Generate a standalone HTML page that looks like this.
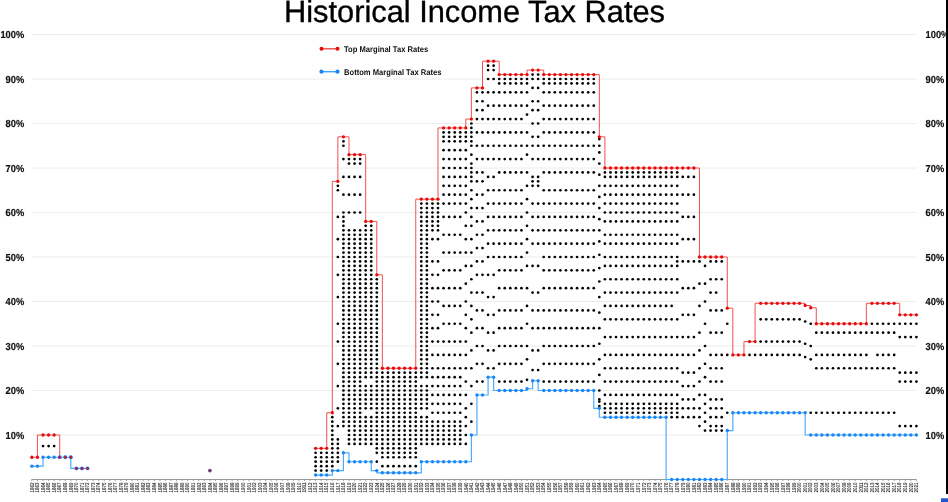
<!DOCTYPE html>
<html><head><meta charset="utf-8"><style>
html,body{margin:0;padding:0;background:#fff;}
svg{display:block;will-change:transform;}
text{font-family:"Liberation Sans",sans-serif;text-rendering:geometricPrecision;}
</style></head><body>
<svg width="948" height="502" viewBox="0 0 948 502">
<rect width="948" height="502" fill="#fff"/>
<text x="474.5" y="22.2" text-anchor="middle" font-size="30.8" textLength="381" lengthAdjust="spacingAndGlyphs" fill="#000" stroke="#000" stroke-width="0.35">Historical Income Tax Rates</text>
<g stroke="#ececec" stroke-width="1"><line x1="32" x2="916.5" y1="435" y2="435"/><line x1="32" x2="916.5" y1="390.5" y2="390.5"/><line x1="32" x2="916.5" y1="346" y2="346"/><line x1="32" x2="916.5" y1="301.5" y2="301.5"/><line x1="32" x2="916.5" y1="257" y2="257"/><line x1="32" x2="916.5" y1="212.5" y2="212.5"/><line x1="32" x2="916.5" y1="168" y2="168"/><line x1="32" x2="916.5" y1="123.5" y2="123.5"/><line x1="32" x2="916.5" y1="79" y2="79"/><line x1="32" x2="916.5" y1="34.5" y2="34.5"/></g>
<g font-size="10.2" font-weight="bold" fill="#111" stroke="#111" stroke-width="0.2" text-anchor="end"><text x="24.2" y="438.6" textLength="18.61" lengthAdjust="spacingAndGlyphs">10%</text><text x="24.2" y="394.1" textLength="18.61" lengthAdjust="spacingAndGlyphs">20%</text><text x="24.2" y="349.6" textLength="18.61" lengthAdjust="spacingAndGlyphs">30%</text><text x="24.2" y="305.1" textLength="18.61" lengthAdjust="spacingAndGlyphs">40%</text><text x="24.2" y="260.6" textLength="18.61" lengthAdjust="spacingAndGlyphs">50%</text><text x="24.2" y="216.1" textLength="18.61" lengthAdjust="spacingAndGlyphs">60%</text><text x="24.2" y="171.6" textLength="18.61" lengthAdjust="spacingAndGlyphs">70%</text><text x="24.2" y="127.1" textLength="18.61" lengthAdjust="spacingAndGlyphs">80%</text><text x="24.2" y="82.6" textLength="18.61" lengthAdjust="spacingAndGlyphs">90%</text><text x="24.2" y="38.1" textLength="23.78" lengthAdjust="spacingAndGlyphs">100%</text></g>
<g font-size="10.2" font-weight="bold" fill="#111" stroke="#111" stroke-width="0.2"><text x="925.6" y="438.6" textLength="18.61" lengthAdjust="spacingAndGlyphs">10%</text><text x="925.6" y="394.1" textLength="18.61" lengthAdjust="spacingAndGlyphs">20%</text><text x="925.6" y="349.6" textLength="18.61" lengthAdjust="spacingAndGlyphs">30%</text><text x="925.6" y="305.1" textLength="18.61" lengthAdjust="spacingAndGlyphs">40%</text><text x="925.6" y="260.6" textLength="18.61" lengthAdjust="spacingAndGlyphs">50%</text><text x="925.6" y="216.1" textLength="18.61" lengthAdjust="spacingAndGlyphs">60%</text><text x="925.6" y="171.6" textLength="18.61" lengthAdjust="spacingAndGlyphs">70%</text><text x="925.6" y="127.1" textLength="18.61" lengthAdjust="spacingAndGlyphs">80%</text><text x="925.6" y="82.6" textLength="18.61" lengthAdjust="spacingAndGlyphs">90%</text><text x="925.6" y="38.1" textLength="23.78" lengthAdjust="spacingAndGlyphs">100%</text></g>
<line x1="31.5" x2="916.5" y1="479.5" y2="479.5" stroke="#9a9a9a" stroke-width="1"/>
<g stroke="#888" stroke-width="0.8"><line x1="31.9" x2="31.9" y1="479.5" y2="481"/><line x1="37.46" x2="37.46" y1="479.5" y2="481"/><line x1="43.03" x2="43.03" y1="479.5" y2="481"/><line x1="48.59" x2="48.59" y1="479.5" y2="481"/><line x1="54.15" x2="54.15" y1="479.5" y2="481"/><line x1="59.71" x2="59.71" y1="479.5" y2="481"/><line x1="65.28" x2="65.28" y1="479.5" y2="481"/><line x1="70.84" x2="70.84" y1="479.5" y2="481"/><line x1="76.4" x2="76.4" y1="479.5" y2="481"/><line x1="81.97" x2="81.97" y1="479.5" y2="481"/><line x1="87.53" x2="87.53" y1="479.5" y2="481"/><line x1="93.09" x2="93.09" y1="479.5" y2="481"/><line x1="98.66" x2="98.66" y1="479.5" y2="481"/><line x1="104.22" x2="104.22" y1="479.5" y2="481"/><line x1="109.78" x2="109.78" y1="479.5" y2="481"/><line x1="115.34" x2="115.34" y1="479.5" y2="481"/><line x1="120.91" x2="120.91" y1="479.5" y2="481"/><line x1="126.47" x2="126.47" y1="479.5" y2="481"/><line x1="132.03" x2="132.03" y1="479.5" y2="481"/><line x1="137.6" x2="137.6" y1="479.5" y2="481"/><line x1="143.16" x2="143.16" y1="479.5" y2="481"/><line x1="148.72" x2="148.72" y1="479.5" y2="481"/><line x1="154.29" x2="154.29" y1="479.5" y2="481"/><line x1="159.85" x2="159.85" y1="479.5" y2="481"/><line x1="165.41" x2="165.41" y1="479.5" y2="481"/><line x1="170.97" x2="170.97" y1="479.5" y2="481"/><line x1="176.54" x2="176.54" y1="479.5" y2="481"/><line x1="182.1" x2="182.1" y1="479.5" y2="481"/><line x1="187.66" x2="187.66" y1="479.5" y2="481"/><line x1="193.23" x2="193.23" y1="479.5" y2="481"/><line x1="198.79" x2="198.79" y1="479.5" y2="481"/><line x1="204.35" x2="204.35" y1="479.5" y2="481"/><line x1="209.92" x2="209.92" y1="479.5" y2="481"/><line x1="215.48" x2="215.48" y1="479.5" y2="481"/><line x1="221.04" x2="221.04" y1="479.5" y2="481"/><line x1="226.6" x2="226.6" y1="479.5" y2="481"/><line x1="232.17" x2="232.17" y1="479.5" y2="481"/><line x1="237.73" x2="237.73" y1="479.5" y2="481"/><line x1="243.29" x2="243.29" y1="479.5" y2="481"/><line x1="248.86" x2="248.86" y1="479.5" y2="481"/><line x1="254.42" x2="254.42" y1="479.5" y2="481"/><line x1="259.98" x2="259.98" y1="479.5" y2="481"/><line x1="265.55" x2="265.55" y1="479.5" y2="481"/><line x1="271.11" x2="271.11" y1="479.5" y2="481"/><line x1="276.67" x2="276.67" y1="479.5" y2="481"/><line x1="282.23" x2="282.23" y1="479.5" y2="481"/><line x1="287.8" x2="287.8" y1="479.5" y2="481"/><line x1="293.36" x2="293.36" y1="479.5" y2="481"/><line x1="298.92" x2="298.92" y1="479.5" y2="481"/><line x1="304.49" x2="304.49" y1="479.5" y2="481"/><line x1="310.05" x2="310.05" y1="479.5" y2="481"/><line x1="315.61" x2="315.61" y1="479.5" y2="481"/><line x1="321.18" x2="321.18" y1="479.5" y2="481"/><line x1="326.74" x2="326.74" y1="479.5" y2="481"/><line x1="332.3" x2="332.3" y1="479.5" y2="481"/><line x1="337.86" x2="337.86" y1="479.5" y2="481"/><line x1="343.43" x2="343.43" y1="479.5" y2="481"/><line x1="348.99" x2="348.99" y1="479.5" y2="481"/><line x1="354.55" x2="354.55" y1="479.5" y2="481"/><line x1="360.12" x2="360.12" y1="479.5" y2="481"/><line x1="365.68" x2="365.68" y1="479.5" y2="481"/><line x1="371.24" x2="371.24" y1="479.5" y2="481"/><line x1="376.81" x2="376.81" y1="479.5" y2="481"/><line x1="382.37" x2="382.37" y1="479.5" y2="481"/><line x1="387.93" x2="387.93" y1="479.5" y2="481"/><line x1="393.49" x2="393.49" y1="479.5" y2="481"/><line x1="399.06" x2="399.06" y1="479.5" y2="481"/><line x1="404.62" x2="404.62" y1="479.5" y2="481"/><line x1="410.18" x2="410.18" y1="479.5" y2="481"/><line x1="415.75" x2="415.75" y1="479.5" y2="481"/><line x1="421.31" x2="421.31" y1="479.5" y2="481"/><line x1="426.87" x2="426.87" y1="479.5" y2="481"/><line x1="432.44" x2="432.44" y1="479.5" y2="481"/><line x1="438" x2="438" y1="479.5" y2="481"/><line x1="443.56" x2="443.56" y1="479.5" y2="481"/><line x1="449.12" x2="449.12" y1="479.5" y2="481"/><line x1="454.69" x2="454.69" y1="479.5" y2="481"/><line x1="460.25" x2="460.25" y1="479.5" y2="481"/><line x1="465.81" x2="465.81" y1="479.5" y2="481"/><line x1="471.38" x2="471.38" y1="479.5" y2="481"/><line x1="476.94" x2="476.94" y1="479.5" y2="481"/><line x1="482.5" x2="482.5" y1="479.5" y2="481"/><line x1="488.07" x2="488.07" y1="479.5" y2="481"/><line x1="493.63" x2="493.63" y1="479.5" y2="481"/><line x1="499.19" x2="499.19" y1="479.5" y2="481"/><line x1="504.75" x2="504.75" y1="479.5" y2="481"/><line x1="510.32" x2="510.32" y1="479.5" y2="481"/><line x1="515.88" x2="515.88" y1="479.5" y2="481"/><line x1="521.44" x2="521.44" y1="479.5" y2="481"/><line x1="527.01" x2="527.01" y1="479.5" y2="481"/><line x1="532.57" x2="532.57" y1="479.5" y2="481"/><line x1="538.13" x2="538.13" y1="479.5" y2="481"/><line x1="543.7" x2="543.7" y1="479.5" y2="481"/><line x1="549.26" x2="549.26" y1="479.5" y2="481"/><line x1="554.82" x2="554.82" y1="479.5" y2="481"/><line x1="560.38" x2="560.38" y1="479.5" y2="481"/><line x1="565.95" x2="565.95" y1="479.5" y2="481"/><line x1="571.51" x2="571.51" y1="479.5" y2="481"/><line x1="577.07" x2="577.07" y1="479.5" y2="481"/><line x1="582.64" x2="582.64" y1="479.5" y2="481"/><line x1="588.2" x2="588.2" y1="479.5" y2="481"/><line x1="593.76" x2="593.76" y1="479.5" y2="481"/><line x1="599.33" x2="599.33" y1="479.5" y2="481"/><line x1="604.89" x2="604.89" y1="479.5" y2="481"/><line x1="610.45" x2="610.45" y1="479.5" y2="481"/><line x1="616.01" x2="616.01" y1="479.5" y2="481"/><line x1="621.58" x2="621.58" y1="479.5" y2="481"/><line x1="627.14" x2="627.14" y1="479.5" y2="481"/><line x1="632.7" x2="632.7" y1="479.5" y2="481"/><line x1="638.27" x2="638.27" y1="479.5" y2="481"/><line x1="643.83" x2="643.83" y1="479.5" y2="481"/><line x1="649.39" x2="649.39" y1="479.5" y2="481"/><line x1="654.96" x2="654.96" y1="479.5" y2="481"/><line x1="660.52" x2="660.52" y1="479.5" y2="481"/><line x1="666.08" x2="666.08" y1="479.5" y2="481"/><line x1="671.64" x2="671.64" y1="479.5" y2="481"/><line x1="677.21" x2="677.21" y1="479.5" y2="481"/><line x1="682.77" x2="682.77" y1="479.5" y2="481"/><line x1="688.33" x2="688.33" y1="479.5" y2="481"/><line x1="693.9" x2="693.9" y1="479.5" y2="481"/><line x1="699.46" x2="699.46" y1="479.5" y2="481"/><line x1="705.02" x2="705.02" y1="479.5" y2="481"/><line x1="710.59" x2="710.59" y1="479.5" y2="481"/><line x1="716.15" x2="716.15" y1="479.5" y2="481"/><line x1="721.71" x2="721.71" y1="479.5" y2="481"/><line x1="727.27" x2="727.27" y1="479.5" y2="481"/><line x1="732.84" x2="732.84" y1="479.5" y2="481"/><line x1="738.4" x2="738.4" y1="479.5" y2="481"/><line x1="743.96" x2="743.96" y1="479.5" y2="481"/><line x1="749.53" x2="749.53" y1="479.5" y2="481"/><line x1="755.09" x2="755.09" y1="479.5" y2="481"/><line x1="760.65" x2="760.65" y1="479.5" y2="481"/><line x1="766.22" x2="766.22" y1="479.5" y2="481"/><line x1="771.78" x2="771.78" y1="479.5" y2="481"/><line x1="777.34" x2="777.34" y1="479.5" y2="481"/><line x1="782.9" x2="782.9" y1="479.5" y2="481"/><line x1="788.47" x2="788.47" y1="479.5" y2="481"/><line x1="794.03" x2="794.03" y1="479.5" y2="481"/><line x1="799.59" x2="799.59" y1="479.5" y2="481"/><line x1="805.16" x2="805.16" y1="479.5" y2="481"/><line x1="810.72" x2="810.72" y1="479.5" y2="481"/><line x1="816.28" x2="816.28" y1="479.5" y2="481"/><line x1="821.85" x2="821.85" y1="479.5" y2="481"/><line x1="827.41" x2="827.41" y1="479.5" y2="481"/><line x1="832.97" x2="832.97" y1="479.5" y2="481"/><line x1="838.53" x2="838.53" y1="479.5" y2="481"/><line x1="844.1" x2="844.1" y1="479.5" y2="481"/><line x1="849.66" x2="849.66" y1="479.5" y2="481"/><line x1="855.22" x2="855.22" y1="479.5" y2="481"/><line x1="860.79" x2="860.79" y1="479.5" y2="481"/><line x1="866.35" x2="866.35" y1="479.5" y2="481"/><line x1="871.91" x2="871.91" y1="479.5" y2="481"/><line x1="877.48" x2="877.48" y1="479.5" y2="481"/><line x1="883.04" x2="883.04" y1="479.5" y2="481"/><line x1="888.6" x2="888.6" y1="479.5" y2="481"/><line x1="894.16" x2="894.16" y1="479.5" y2="481"/><line x1="899.73" x2="899.73" y1="479.5" y2="481"/><line x1="905.29" x2="905.29" y1="479.5" y2="481"/><line x1="910.85" x2="910.85" y1="479.5" y2="481"/><line x1="916.42" x2="916.42" y1="479.5" y2="481"/></g>
<g font-size="5.6" fill="#222" stroke="#222" stroke-width="0.12"><text transform="translate(33.65 492.4) rotate(-90)" textLength="10" lengthAdjust="spacingAndGlyphs">1862</text><text transform="translate(39.21 492.4) rotate(-90)" textLength="10" lengthAdjust="spacingAndGlyphs">1863</text><text transform="translate(44.78 492.4) rotate(-90)" textLength="10" lengthAdjust="spacingAndGlyphs">1864</text><text transform="translate(50.34 492.4) rotate(-90)" textLength="10" lengthAdjust="spacingAndGlyphs">1865</text><text transform="translate(55.9 492.4) rotate(-90)" textLength="10" lengthAdjust="spacingAndGlyphs">1866</text><text transform="translate(61.46 492.4) rotate(-90)" textLength="10" lengthAdjust="spacingAndGlyphs">1867</text><text transform="translate(67.03 492.4) rotate(-90)" textLength="10" lengthAdjust="spacingAndGlyphs">1868</text><text transform="translate(72.59 492.4) rotate(-90)" textLength="10" lengthAdjust="spacingAndGlyphs">1869</text><text transform="translate(78.15 492.4) rotate(-90)" textLength="10" lengthAdjust="spacingAndGlyphs">1870</text><text transform="translate(83.72 492.4) rotate(-90)" textLength="10" lengthAdjust="spacingAndGlyphs">1871</text><text transform="translate(89.28 492.4) rotate(-90)" textLength="10" lengthAdjust="spacingAndGlyphs">1872</text><text transform="translate(94.84 492.4) rotate(-90)" textLength="10" lengthAdjust="spacingAndGlyphs">1873</text><text transform="translate(100.41 492.4) rotate(-90)" textLength="10" lengthAdjust="spacingAndGlyphs">1874</text><text transform="translate(105.97 492.4) rotate(-90)" textLength="10" lengthAdjust="spacingAndGlyphs">1875</text><text transform="translate(111.53 492.4) rotate(-90)" textLength="10" lengthAdjust="spacingAndGlyphs">1876</text><text transform="translate(117.09 492.4) rotate(-90)" textLength="10" lengthAdjust="spacingAndGlyphs">1877</text><text transform="translate(122.66 492.4) rotate(-90)" textLength="10" lengthAdjust="spacingAndGlyphs">1878</text><text transform="translate(128.22 492.4) rotate(-90)" textLength="10" lengthAdjust="spacingAndGlyphs">1879</text><text transform="translate(133.78 492.4) rotate(-90)" textLength="10" lengthAdjust="spacingAndGlyphs">1880</text><text transform="translate(139.35 492.4) rotate(-90)" textLength="10" lengthAdjust="spacingAndGlyphs">1881</text><text transform="translate(144.91 492.4) rotate(-90)" textLength="10" lengthAdjust="spacingAndGlyphs">1882</text><text transform="translate(150.47 492.4) rotate(-90)" textLength="10" lengthAdjust="spacingAndGlyphs">1883</text><text transform="translate(156.04 492.4) rotate(-90)" textLength="10" lengthAdjust="spacingAndGlyphs">1884</text><text transform="translate(161.6 492.4) rotate(-90)" textLength="10" lengthAdjust="spacingAndGlyphs">1885</text><text transform="translate(167.16 492.4) rotate(-90)" textLength="10" lengthAdjust="spacingAndGlyphs">1886</text><text transform="translate(172.72 492.4) rotate(-90)" textLength="10" lengthAdjust="spacingAndGlyphs">1887</text><text transform="translate(178.29 492.4) rotate(-90)" textLength="10" lengthAdjust="spacingAndGlyphs">1888</text><text transform="translate(183.85 492.4) rotate(-90)" textLength="10" lengthAdjust="spacingAndGlyphs">1889</text><text transform="translate(189.41 492.4) rotate(-90)" textLength="10" lengthAdjust="spacingAndGlyphs">1890</text><text transform="translate(194.98 492.4) rotate(-90)" textLength="10" lengthAdjust="spacingAndGlyphs">1891</text><text transform="translate(200.54 492.4) rotate(-90)" textLength="10" lengthAdjust="spacingAndGlyphs">1892</text><text transform="translate(206.1 492.4) rotate(-90)" textLength="10" lengthAdjust="spacingAndGlyphs">1893</text><text transform="translate(211.67 492.4) rotate(-90)" textLength="10" lengthAdjust="spacingAndGlyphs">1894</text><text transform="translate(217.23 492.4) rotate(-90)" textLength="10" lengthAdjust="spacingAndGlyphs">1895</text><text transform="translate(222.79 492.4) rotate(-90)" textLength="10" lengthAdjust="spacingAndGlyphs">1896</text><text transform="translate(228.35 492.4) rotate(-90)" textLength="10" lengthAdjust="spacingAndGlyphs">1897</text><text transform="translate(233.92 492.4) rotate(-90)" textLength="10" lengthAdjust="spacingAndGlyphs">1898</text><text transform="translate(239.48 492.4) rotate(-90)" textLength="10" lengthAdjust="spacingAndGlyphs">1899</text><text transform="translate(245.04 492.4) rotate(-90)" textLength="10" lengthAdjust="spacingAndGlyphs">1900</text><text transform="translate(250.61 492.4) rotate(-90)" textLength="10" lengthAdjust="spacingAndGlyphs">1901</text><text transform="translate(256.17 492.4) rotate(-90)" textLength="10" lengthAdjust="spacingAndGlyphs">1902</text><text transform="translate(261.73 492.4) rotate(-90)" textLength="10" lengthAdjust="spacingAndGlyphs">1903</text><text transform="translate(267.3 492.4) rotate(-90)" textLength="10" lengthAdjust="spacingAndGlyphs">1904</text><text transform="translate(272.86 492.4) rotate(-90)" textLength="10" lengthAdjust="spacingAndGlyphs">1905</text><text transform="translate(278.42 492.4) rotate(-90)" textLength="10" lengthAdjust="spacingAndGlyphs">1906</text><text transform="translate(283.98 492.4) rotate(-90)" textLength="10" lengthAdjust="spacingAndGlyphs">1907</text><text transform="translate(289.55 492.4) rotate(-90)" textLength="10" lengthAdjust="spacingAndGlyphs">1908</text><text transform="translate(295.11 492.4) rotate(-90)" textLength="10" lengthAdjust="spacingAndGlyphs">1909</text><text transform="translate(300.67 492.4) rotate(-90)" textLength="10" lengthAdjust="spacingAndGlyphs">1910</text><text transform="translate(306.24 492.4) rotate(-90)" textLength="10" lengthAdjust="spacingAndGlyphs">1911</text><text transform="translate(311.8 492.4) rotate(-90)" textLength="10" lengthAdjust="spacingAndGlyphs">1912</text><text transform="translate(317.36 492.4) rotate(-90)" textLength="10" lengthAdjust="spacingAndGlyphs">1913</text><text transform="translate(322.93 492.4) rotate(-90)" textLength="10" lengthAdjust="spacingAndGlyphs">1914</text><text transform="translate(328.49 492.4) rotate(-90)" textLength="10" lengthAdjust="spacingAndGlyphs">1915</text><text transform="translate(334.05 492.4) rotate(-90)" textLength="10" lengthAdjust="spacingAndGlyphs">1916</text><text transform="translate(339.61 492.4) rotate(-90)" textLength="10" lengthAdjust="spacingAndGlyphs">1917</text><text transform="translate(345.18 492.4) rotate(-90)" textLength="10" lengthAdjust="spacingAndGlyphs">1918</text><text transform="translate(350.74 492.4) rotate(-90)" textLength="10" lengthAdjust="spacingAndGlyphs">1919</text><text transform="translate(356.3 492.4) rotate(-90)" textLength="10" lengthAdjust="spacingAndGlyphs">1920</text><text transform="translate(361.87 492.4) rotate(-90)" textLength="10" lengthAdjust="spacingAndGlyphs">1921</text><text transform="translate(367.43 492.4) rotate(-90)" textLength="10" lengthAdjust="spacingAndGlyphs">1922</text><text transform="translate(372.99 492.4) rotate(-90)" textLength="10" lengthAdjust="spacingAndGlyphs">1923</text><text transform="translate(378.56 492.4) rotate(-90)" textLength="10" lengthAdjust="spacingAndGlyphs">1924</text><text transform="translate(384.12 492.4) rotate(-90)" textLength="10" lengthAdjust="spacingAndGlyphs">1925</text><text transform="translate(389.68 492.4) rotate(-90)" textLength="10" lengthAdjust="spacingAndGlyphs">1926</text><text transform="translate(395.24 492.4) rotate(-90)" textLength="10" lengthAdjust="spacingAndGlyphs">1927</text><text transform="translate(400.81 492.4) rotate(-90)" textLength="10" lengthAdjust="spacingAndGlyphs">1928</text><text transform="translate(406.37 492.4) rotate(-90)" textLength="10" lengthAdjust="spacingAndGlyphs">1929</text><text transform="translate(411.93 492.4) rotate(-90)" textLength="10" lengthAdjust="spacingAndGlyphs">1930</text><text transform="translate(417.5 492.4) rotate(-90)" textLength="10" lengthAdjust="spacingAndGlyphs">1931</text><text transform="translate(423.06 492.4) rotate(-90)" textLength="10" lengthAdjust="spacingAndGlyphs">1932</text><text transform="translate(428.62 492.4) rotate(-90)" textLength="10" lengthAdjust="spacingAndGlyphs">1933</text><text transform="translate(434.19 492.4) rotate(-90)" textLength="10" lengthAdjust="spacingAndGlyphs">1934</text><text transform="translate(439.75 492.4) rotate(-90)" textLength="10" lengthAdjust="spacingAndGlyphs">1935</text><text transform="translate(445.31 492.4) rotate(-90)" textLength="10" lengthAdjust="spacingAndGlyphs">1936</text><text transform="translate(450.87 492.4) rotate(-90)" textLength="10" lengthAdjust="spacingAndGlyphs">1937</text><text transform="translate(456.44 492.4) rotate(-90)" textLength="10" lengthAdjust="spacingAndGlyphs">1938</text><text transform="translate(462 492.4) rotate(-90)" textLength="10" lengthAdjust="spacingAndGlyphs">1939</text><text transform="translate(467.56 492.4) rotate(-90)" textLength="10" lengthAdjust="spacingAndGlyphs">1940</text><text transform="translate(473.13 492.4) rotate(-90)" textLength="10" lengthAdjust="spacingAndGlyphs">1941</text><text transform="translate(478.69 492.4) rotate(-90)" textLength="10" lengthAdjust="spacingAndGlyphs">1942</text><text transform="translate(484.25 492.4) rotate(-90)" textLength="10" lengthAdjust="spacingAndGlyphs">1943</text><text transform="translate(489.82 492.4) rotate(-90)" textLength="10" lengthAdjust="spacingAndGlyphs">1944</text><text transform="translate(495.38 492.4) rotate(-90)" textLength="10" lengthAdjust="spacingAndGlyphs">1945</text><text transform="translate(500.94 492.4) rotate(-90)" textLength="10" lengthAdjust="spacingAndGlyphs">1946</text><text transform="translate(506.5 492.4) rotate(-90)" textLength="10" lengthAdjust="spacingAndGlyphs">1947</text><text transform="translate(512.07 492.4) rotate(-90)" textLength="10" lengthAdjust="spacingAndGlyphs">1948</text><text transform="translate(517.63 492.4) rotate(-90)" textLength="10" lengthAdjust="spacingAndGlyphs">1949</text><text transform="translate(523.19 492.4) rotate(-90)" textLength="10" lengthAdjust="spacingAndGlyphs">1950</text><text transform="translate(528.76 492.4) rotate(-90)" textLength="10" lengthAdjust="spacingAndGlyphs">1951</text><text transform="translate(534.32 492.4) rotate(-90)" textLength="10" lengthAdjust="spacingAndGlyphs">1952</text><text transform="translate(539.88 492.4) rotate(-90)" textLength="10" lengthAdjust="spacingAndGlyphs">1953</text><text transform="translate(545.45 492.4) rotate(-90)" textLength="10" lengthAdjust="spacingAndGlyphs">1954</text><text transform="translate(551.01 492.4) rotate(-90)" textLength="10" lengthAdjust="spacingAndGlyphs">1955</text><text transform="translate(556.57 492.4) rotate(-90)" textLength="10" lengthAdjust="spacingAndGlyphs">1956</text><text transform="translate(562.13 492.4) rotate(-90)" textLength="10" lengthAdjust="spacingAndGlyphs">1957</text><text transform="translate(567.7 492.4) rotate(-90)" textLength="10" lengthAdjust="spacingAndGlyphs">1958</text><text transform="translate(573.26 492.4) rotate(-90)" textLength="10" lengthAdjust="spacingAndGlyphs">1959</text><text transform="translate(578.82 492.4) rotate(-90)" textLength="10" lengthAdjust="spacingAndGlyphs">1960</text><text transform="translate(584.39 492.4) rotate(-90)" textLength="10" lengthAdjust="spacingAndGlyphs">1961</text><text transform="translate(589.95 492.4) rotate(-90)" textLength="10" lengthAdjust="spacingAndGlyphs">1962</text><text transform="translate(595.51 492.4) rotate(-90)" textLength="10" lengthAdjust="spacingAndGlyphs">1963</text><text transform="translate(601.08 492.4) rotate(-90)" textLength="10" lengthAdjust="spacingAndGlyphs">1964</text><text transform="translate(606.64 492.4) rotate(-90)" textLength="10" lengthAdjust="spacingAndGlyphs">1965</text><text transform="translate(612.2 492.4) rotate(-90)" textLength="10" lengthAdjust="spacingAndGlyphs">1966</text><text transform="translate(617.76 492.4) rotate(-90)" textLength="10" lengthAdjust="spacingAndGlyphs">1967</text><text transform="translate(623.33 492.4) rotate(-90)" textLength="10" lengthAdjust="spacingAndGlyphs">1968</text><text transform="translate(628.89 492.4) rotate(-90)" textLength="10" lengthAdjust="spacingAndGlyphs">1969</text><text transform="translate(634.45 492.4) rotate(-90)" textLength="10" lengthAdjust="spacingAndGlyphs">1970</text><text transform="translate(640.02 492.4) rotate(-90)" textLength="10" lengthAdjust="spacingAndGlyphs">1971</text><text transform="translate(645.58 492.4) rotate(-90)" textLength="10" lengthAdjust="spacingAndGlyphs">1972</text><text transform="translate(651.14 492.4) rotate(-90)" textLength="10" lengthAdjust="spacingAndGlyphs">1973</text><text transform="translate(656.71 492.4) rotate(-90)" textLength="10" lengthAdjust="spacingAndGlyphs">1974</text><text transform="translate(662.27 492.4) rotate(-90)" textLength="10" lengthAdjust="spacingAndGlyphs">1975</text><text transform="translate(667.83 492.4) rotate(-90)" textLength="10" lengthAdjust="spacingAndGlyphs">1976</text><text transform="translate(673.39 492.4) rotate(-90)" textLength="10" lengthAdjust="spacingAndGlyphs">1977</text><text transform="translate(678.96 492.4) rotate(-90)" textLength="10" lengthAdjust="spacingAndGlyphs">1978</text><text transform="translate(684.52 492.4) rotate(-90)" textLength="10" lengthAdjust="spacingAndGlyphs">1979</text><text transform="translate(690.08 492.4) rotate(-90)" textLength="10" lengthAdjust="spacingAndGlyphs">1980</text><text transform="translate(695.65 492.4) rotate(-90)" textLength="10" lengthAdjust="spacingAndGlyphs">1981</text><text transform="translate(701.21 492.4) rotate(-90)" textLength="10" lengthAdjust="spacingAndGlyphs">1982</text><text transform="translate(706.77 492.4) rotate(-90)" textLength="10" lengthAdjust="spacingAndGlyphs">1983</text><text transform="translate(712.34 492.4) rotate(-90)" textLength="10" lengthAdjust="spacingAndGlyphs">1984</text><text transform="translate(717.9 492.4) rotate(-90)" textLength="10" lengthAdjust="spacingAndGlyphs">1985</text><text transform="translate(723.46 492.4) rotate(-90)" textLength="10" lengthAdjust="spacingAndGlyphs">1986</text><text transform="translate(729.02 492.4) rotate(-90)" textLength="10" lengthAdjust="spacingAndGlyphs">1987</text><text transform="translate(734.59 492.4) rotate(-90)" textLength="10" lengthAdjust="spacingAndGlyphs">1988</text><text transform="translate(740.15 492.4) rotate(-90)" textLength="10" lengthAdjust="spacingAndGlyphs">1989</text><text transform="translate(745.71 492.4) rotate(-90)" textLength="10" lengthAdjust="spacingAndGlyphs">1990</text><text transform="translate(751.28 492.4) rotate(-90)" textLength="10" lengthAdjust="spacingAndGlyphs">1991</text><text transform="translate(756.84 492.4) rotate(-90)" textLength="10" lengthAdjust="spacingAndGlyphs">1992</text><text transform="translate(762.4 492.4) rotate(-90)" textLength="10" lengthAdjust="spacingAndGlyphs">1993</text><text transform="translate(767.97 492.4) rotate(-90)" textLength="10" lengthAdjust="spacingAndGlyphs">1994</text><text transform="translate(773.53 492.4) rotate(-90)" textLength="10" lengthAdjust="spacingAndGlyphs">1995</text><text transform="translate(779.09 492.4) rotate(-90)" textLength="10" lengthAdjust="spacingAndGlyphs">1996</text><text transform="translate(784.65 492.4) rotate(-90)" textLength="10" lengthAdjust="spacingAndGlyphs">1997</text><text transform="translate(790.22 492.4) rotate(-90)" textLength="10" lengthAdjust="spacingAndGlyphs">1998</text><text transform="translate(795.78 492.4) rotate(-90)" textLength="10" lengthAdjust="spacingAndGlyphs">1999</text><text transform="translate(801.34 492.4) rotate(-90)" textLength="10" lengthAdjust="spacingAndGlyphs">2000</text><text transform="translate(806.91 492.4) rotate(-90)" textLength="10" lengthAdjust="spacingAndGlyphs">2001</text><text transform="translate(812.47 492.4) rotate(-90)" textLength="10" lengthAdjust="spacingAndGlyphs">2002</text><text transform="translate(818.03 492.4) rotate(-90)" textLength="10" lengthAdjust="spacingAndGlyphs">2003</text><text transform="translate(823.6 492.4) rotate(-90)" textLength="10" lengthAdjust="spacingAndGlyphs">2004</text><text transform="translate(829.16 492.4) rotate(-90)" textLength="10" lengthAdjust="spacingAndGlyphs">2005</text><text transform="translate(834.72 492.4) rotate(-90)" textLength="10" lengthAdjust="spacingAndGlyphs">2006</text><text transform="translate(840.28 492.4) rotate(-90)" textLength="10" lengthAdjust="spacingAndGlyphs">2007</text><text transform="translate(845.85 492.4) rotate(-90)" textLength="10" lengthAdjust="spacingAndGlyphs">2008</text><text transform="translate(851.41 492.4) rotate(-90)" textLength="10" lengthAdjust="spacingAndGlyphs">2009</text><text transform="translate(856.97 492.4) rotate(-90)" textLength="10" lengthAdjust="spacingAndGlyphs">2010</text><text transform="translate(862.54 492.4) rotate(-90)" textLength="10" lengthAdjust="spacingAndGlyphs">2011</text><text transform="translate(868.1 492.4) rotate(-90)" textLength="10" lengthAdjust="spacingAndGlyphs">2012</text><text transform="translate(873.66 492.4) rotate(-90)" textLength="10" lengthAdjust="spacingAndGlyphs">2013</text><text transform="translate(879.23 492.4) rotate(-90)" textLength="10" lengthAdjust="spacingAndGlyphs">2014</text><text transform="translate(884.79 492.4) rotate(-90)" textLength="10" lengthAdjust="spacingAndGlyphs">2015</text><text transform="translate(890.35 492.4) rotate(-90)" textLength="10" lengthAdjust="spacingAndGlyphs">2016</text><text transform="translate(895.91 492.4) rotate(-90)" textLength="10" lengthAdjust="spacingAndGlyphs">2017</text><text transform="translate(901.48 492.4) rotate(-90)" textLength="10" lengthAdjust="spacingAndGlyphs">2018</text><text transform="translate(907.04 492.4) rotate(-90)" textLength="10" lengthAdjust="spacingAndGlyphs">2019</text><text transform="translate(912.6 492.4) rotate(-90)" textLength="10" lengthAdjust="spacingAndGlyphs">2020</text><text transform="translate(918.17 492.4) rotate(-90)" textLength="10" lengthAdjust="spacingAndGlyphs">2021</text></g>
<g fill="#000"><circle cx="43.03" cy="446.12" r="1.35"/><circle cx="48.59" cy="446.12" r="1.35"/><circle cx="54.15" cy="446.12" r="1.35"/><circle cx="315.61" cy="470.6" r="1.35"/><circle cx="315.61" cy="466.15" r="1.35"/><circle cx="315.61" cy="461.7" r="1.35"/><circle cx="315.61" cy="457.25" r="1.35"/><circle cx="315.61" cy="452.8" r="1.35"/><circle cx="321.18" cy="470.6" r="1.35"/><circle cx="321.18" cy="466.15" r="1.35"/><circle cx="321.18" cy="461.7" r="1.35"/><circle cx="321.18" cy="457.25" r="1.35"/><circle cx="321.18" cy="452.8" r="1.35"/><circle cx="326.74" cy="470.6" r="1.35"/><circle cx="326.74" cy="466.15" r="1.35"/><circle cx="326.74" cy="461.7" r="1.35"/><circle cx="326.74" cy="457.25" r="1.35"/><circle cx="326.74" cy="452.8" r="1.35"/><circle cx="332.3" cy="466.15" r="1.35"/><circle cx="332.3" cy="461.7" r="1.35"/><circle cx="332.3" cy="457.25" r="1.35"/><circle cx="332.3" cy="452.8" r="1.35"/><circle cx="332.3" cy="448.35" r="1.35"/><circle cx="332.3" cy="443.9" r="1.35"/><circle cx="332.3" cy="439.45" r="1.35"/><circle cx="332.3" cy="435" r="1.35"/><circle cx="332.3" cy="430.55" r="1.35"/><circle cx="332.3" cy="426.1" r="1.35"/><circle cx="332.3" cy="421.65" r="1.35"/><circle cx="332.3" cy="417.2" r="1.35"/><circle cx="337.86" cy="461.7" r="1.35"/><circle cx="337.86" cy="457.25" r="1.35"/><circle cx="337.86" cy="452.8" r="1.35"/><circle cx="337.86" cy="448.35" r="1.35"/><circle cx="337.86" cy="443.9" r="1.35"/><circle cx="337.86" cy="439.45" r="1.35"/><circle cx="337.86" cy="426.1" r="1.35"/><circle cx="337.86" cy="408.3" r="1.35"/><circle cx="337.86" cy="386.05" r="1.35"/><circle cx="337.86" cy="363.8" r="1.35"/><circle cx="337.86" cy="341.55" r="1.35"/><circle cx="337.86" cy="323.75" r="1.35"/><circle cx="337.86" cy="297.05" r="1.35"/><circle cx="337.86" cy="274.8" r="1.35"/><circle cx="337.86" cy="257" r="1.35"/><circle cx="337.86" cy="239.2" r="1.35"/><circle cx="337.86" cy="216.95" r="1.35"/><circle cx="337.86" cy="190.25" r="1.35"/><circle cx="337.86" cy="185.8" r="1.35"/><circle cx="343.43" cy="426.1" r="1.35"/><circle cx="343.43" cy="421.65" r="1.35"/><circle cx="343.43" cy="417.2" r="1.35"/><circle cx="343.43" cy="412.75" r="1.35"/><circle cx="343.43" cy="408.3" r="1.35"/><circle cx="343.43" cy="403.85" r="1.35"/><circle cx="343.43" cy="399.4" r="1.35"/><circle cx="343.43" cy="394.95" r="1.35"/><circle cx="343.43" cy="390.5" r="1.35"/><circle cx="343.43" cy="386.05" r="1.35"/><circle cx="343.43" cy="381.6" r="1.35"/><circle cx="343.43" cy="377.15" r="1.35"/><circle cx="343.43" cy="372.7" r="1.35"/><circle cx="343.43" cy="368.25" r="1.35"/><circle cx="343.43" cy="363.8" r="1.35"/><circle cx="343.43" cy="359.35" r="1.35"/><circle cx="343.43" cy="354.9" r="1.35"/><circle cx="343.43" cy="350.45" r="1.35"/><circle cx="343.43" cy="346" r="1.35"/><circle cx="343.43" cy="341.55" r="1.35"/><circle cx="343.43" cy="337.1" r="1.35"/><circle cx="343.43" cy="332.65" r="1.35"/><circle cx="343.43" cy="328.2" r="1.35"/><circle cx="343.43" cy="323.75" r="1.35"/><circle cx="343.43" cy="319.3" r="1.35"/><circle cx="343.43" cy="314.85" r="1.35"/><circle cx="343.43" cy="310.4" r="1.35"/><circle cx="343.43" cy="305.95" r="1.35"/><circle cx="343.43" cy="301.5" r="1.35"/><circle cx="343.43" cy="297.05" r="1.35"/><circle cx="343.43" cy="292.6" r="1.35"/><circle cx="343.43" cy="288.15" r="1.35"/><circle cx="343.43" cy="283.7" r="1.35"/><circle cx="343.43" cy="279.25" r="1.35"/><circle cx="343.43" cy="274.8" r="1.35"/><circle cx="343.43" cy="270.35" r="1.35"/><circle cx="343.43" cy="265.9" r="1.35"/><circle cx="343.43" cy="261.45" r="1.35"/><circle cx="343.43" cy="257" r="1.35"/><circle cx="343.43" cy="252.55" r="1.35"/><circle cx="343.43" cy="248.1" r="1.35"/><circle cx="343.43" cy="243.65" r="1.35"/><circle cx="343.43" cy="239.2" r="1.35"/><circle cx="343.43" cy="234.75" r="1.35"/><circle cx="343.43" cy="230.3" r="1.35"/><circle cx="343.43" cy="225.85" r="1.35"/><circle cx="343.43" cy="221.4" r="1.35"/><circle cx="343.43" cy="216.95" r="1.35"/><circle cx="343.43" cy="212.5" r="1.35"/><circle cx="343.43" cy="194.7" r="1.35"/><circle cx="343.43" cy="176.9" r="1.35"/><circle cx="343.43" cy="159.1" r="1.35"/><circle cx="343.43" cy="145.75" r="1.35"/><circle cx="343.43" cy="141.3" r="1.35"/><circle cx="348.99" cy="443.9" r="1.35"/><circle cx="348.99" cy="439.45" r="1.35"/><circle cx="348.99" cy="435" r="1.35"/><circle cx="348.99" cy="430.55" r="1.35"/><circle cx="348.99" cy="426.1" r="1.35"/><circle cx="348.99" cy="421.65" r="1.35"/><circle cx="348.99" cy="417.2" r="1.35"/><circle cx="348.99" cy="412.75" r="1.35"/><circle cx="348.99" cy="408.3" r="1.35"/><circle cx="348.99" cy="403.85" r="1.35"/><circle cx="348.99" cy="399.4" r="1.35"/><circle cx="348.99" cy="394.95" r="1.35"/><circle cx="348.99" cy="390.5" r="1.35"/><circle cx="348.99" cy="386.05" r="1.35"/><circle cx="348.99" cy="381.6" r="1.35"/><circle cx="348.99" cy="377.15" r="1.35"/><circle cx="348.99" cy="372.7" r="1.35"/><circle cx="348.99" cy="368.25" r="1.35"/><circle cx="348.99" cy="363.8" r="1.35"/><circle cx="348.99" cy="359.35" r="1.35"/><circle cx="348.99" cy="354.9" r="1.35"/><circle cx="348.99" cy="350.45" r="1.35"/><circle cx="348.99" cy="346" r="1.35"/><circle cx="348.99" cy="341.55" r="1.35"/><circle cx="348.99" cy="337.1" r="1.35"/><circle cx="348.99" cy="332.65" r="1.35"/><circle cx="348.99" cy="328.2" r="1.35"/><circle cx="348.99" cy="323.75" r="1.35"/><circle cx="348.99" cy="319.3" r="1.35"/><circle cx="348.99" cy="314.85" r="1.35"/><circle cx="348.99" cy="310.4" r="1.35"/><circle cx="348.99" cy="305.95" r="1.35"/><circle cx="348.99" cy="301.5" r="1.35"/><circle cx="348.99" cy="297.05" r="1.35"/><circle cx="348.99" cy="292.6" r="1.35"/><circle cx="348.99" cy="288.15" r="1.35"/><circle cx="348.99" cy="283.7" r="1.35"/><circle cx="348.99" cy="279.25" r="1.35"/><circle cx="348.99" cy="274.8" r="1.35"/><circle cx="348.99" cy="270.35" r="1.35"/><circle cx="348.99" cy="265.9" r="1.35"/><circle cx="348.99" cy="261.45" r="1.35"/><circle cx="348.99" cy="257" r="1.35"/><circle cx="348.99" cy="252.55" r="1.35"/><circle cx="348.99" cy="248.1" r="1.35"/><circle cx="348.99" cy="243.65" r="1.35"/><circle cx="348.99" cy="239.2" r="1.35"/><circle cx="348.99" cy="234.75" r="1.35"/><circle cx="348.99" cy="230.3" r="1.35"/><circle cx="348.99" cy="212.5" r="1.35"/><circle cx="348.99" cy="194.7" r="1.35"/><circle cx="348.99" cy="176.9" r="1.35"/><circle cx="348.99" cy="163.55" r="1.35"/><circle cx="348.99" cy="159.1" r="1.35"/><circle cx="354.55" cy="443.9" r="1.35"/><circle cx="354.55" cy="439.45" r="1.35"/><circle cx="354.55" cy="435" r="1.35"/><circle cx="354.55" cy="430.55" r="1.35"/><circle cx="354.55" cy="426.1" r="1.35"/><circle cx="354.55" cy="421.65" r="1.35"/><circle cx="354.55" cy="417.2" r="1.35"/><circle cx="354.55" cy="412.75" r="1.35"/><circle cx="354.55" cy="408.3" r="1.35"/><circle cx="354.55" cy="403.85" r="1.35"/><circle cx="354.55" cy="399.4" r="1.35"/><circle cx="354.55" cy="394.95" r="1.35"/><circle cx="354.55" cy="390.5" r="1.35"/><circle cx="354.55" cy="386.05" r="1.35"/><circle cx="354.55" cy="381.6" r="1.35"/><circle cx="354.55" cy="377.15" r="1.35"/><circle cx="354.55" cy="372.7" r="1.35"/><circle cx="354.55" cy="368.25" r="1.35"/><circle cx="354.55" cy="363.8" r="1.35"/><circle cx="354.55" cy="359.35" r="1.35"/><circle cx="354.55" cy="354.9" r="1.35"/><circle cx="354.55" cy="350.45" r="1.35"/><circle cx="354.55" cy="346" r="1.35"/><circle cx="354.55" cy="341.55" r="1.35"/><circle cx="354.55" cy="337.1" r="1.35"/><circle cx="354.55" cy="332.65" r="1.35"/><circle cx="354.55" cy="328.2" r="1.35"/><circle cx="354.55" cy="323.75" r="1.35"/><circle cx="354.55" cy="319.3" r="1.35"/><circle cx="354.55" cy="314.85" r="1.35"/><circle cx="354.55" cy="310.4" r="1.35"/><circle cx="354.55" cy="305.95" r="1.35"/><circle cx="354.55" cy="301.5" r="1.35"/><circle cx="354.55" cy="297.05" r="1.35"/><circle cx="354.55" cy="292.6" r="1.35"/><circle cx="354.55" cy="288.15" r="1.35"/><circle cx="354.55" cy="283.7" r="1.35"/><circle cx="354.55" cy="279.25" r="1.35"/><circle cx="354.55" cy="274.8" r="1.35"/><circle cx="354.55" cy="270.35" r="1.35"/><circle cx="354.55" cy="265.9" r="1.35"/><circle cx="354.55" cy="261.45" r="1.35"/><circle cx="354.55" cy="257" r="1.35"/><circle cx="354.55" cy="252.55" r="1.35"/><circle cx="354.55" cy="248.1" r="1.35"/><circle cx="354.55" cy="243.65" r="1.35"/><circle cx="354.55" cy="239.2" r="1.35"/><circle cx="354.55" cy="234.75" r="1.35"/><circle cx="354.55" cy="230.3" r="1.35"/><circle cx="354.55" cy="212.5" r="1.35"/><circle cx="354.55" cy="194.7" r="1.35"/><circle cx="354.55" cy="176.9" r="1.35"/><circle cx="354.55" cy="163.55" r="1.35"/><circle cx="354.55" cy="159.1" r="1.35"/><circle cx="360.12" cy="443.9" r="1.35"/><circle cx="360.12" cy="439.45" r="1.35"/><circle cx="360.12" cy="435" r="1.35"/><circle cx="360.12" cy="430.55" r="1.35"/><circle cx="360.12" cy="426.1" r="1.35"/><circle cx="360.12" cy="421.65" r="1.35"/><circle cx="360.12" cy="417.2" r="1.35"/><circle cx="360.12" cy="412.75" r="1.35"/><circle cx="360.12" cy="408.3" r="1.35"/><circle cx="360.12" cy="403.85" r="1.35"/><circle cx="360.12" cy="399.4" r="1.35"/><circle cx="360.12" cy="394.95" r="1.35"/><circle cx="360.12" cy="390.5" r="1.35"/><circle cx="360.12" cy="386.05" r="1.35"/><circle cx="360.12" cy="381.6" r="1.35"/><circle cx="360.12" cy="377.15" r="1.35"/><circle cx="360.12" cy="372.7" r="1.35"/><circle cx="360.12" cy="368.25" r="1.35"/><circle cx="360.12" cy="363.8" r="1.35"/><circle cx="360.12" cy="359.35" r="1.35"/><circle cx="360.12" cy="354.9" r="1.35"/><circle cx="360.12" cy="350.45" r="1.35"/><circle cx="360.12" cy="346" r="1.35"/><circle cx="360.12" cy="341.55" r="1.35"/><circle cx="360.12" cy="337.1" r="1.35"/><circle cx="360.12" cy="332.65" r="1.35"/><circle cx="360.12" cy="328.2" r="1.35"/><circle cx="360.12" cy="323.75" r="1.35"/><circle cx="360.12" cy="319.3" r="1.35"/><circle cx="360.12" cy="314.85" r="1.35"/><circle cx="360.12" cy="310.4" r="1.35"/><circle cx="360.12" cy="305.95" r="1.35"/><circle cx="360.12" cy="301.5" r="1.35"/><circle cx="360.12" cy="297.05" r="1.35"/><circle cx="360.12" cy="292.6" r="1.35"/><circle cx="360.12" cy="288.15" r="1.35"/><circle cx="360.12" cy="283.7" r="1.35"/><circle cx="360.12" cy="279.25" r="1.35"/><circle cx="360.12" cy="274.8" r="1.35"/><circle cx="360.12" cy="270.35" r="1.35"/><circle cx="360.12" cy="265.9" r="1.35"/><circle cx="360.12" cy="261.45" r="1.35"/><circle cx="360.12" cy="257" r="1.35"/><circle cx="360.12" cy="252.55" r="1.35"/><circle cx="360.12" cy="248.1" r="1.35"/><circle cx="360.12" cy="243.65" r="1.35"/><circle cx="360.12" cy="239.2" r="1.35"/><circle cx="360.12" cy="234.75" r="1.35"/><circle cx="360.12" cy="230.3" r="1.35"/><circle cx="360.12" cy="212.5" r="1.35"/><circle cx="360.12" cy="194.7" r="1.35"/><circle cx="360.12" cy="176.9" r="1.35"/><circle cx="360.12" cy="163.55" r="1.35"/><circle cx="360.12" cy="159.1" r="1.35"/><circle cx="365.68" cy="443.9" r="1.35"/><circle cx="365.68" cy="439.45" r="1.35"/><circle cx="365.68" cy="435" r="1.35"/><circle cx="365.68" cy="430.55" r="1.35"/><circle cx="365.68" cy="426.1" r="1.35"/><circle cx="365.68" cy="421.65" r="1.35"/><circle cx="365.68" cy="417.2" r="1.35"/><circle cx="365.68" cy="408.3" r="1.35"/><circle cx="365.68" cy="403.85" r="1.35"/><circle cx="365.68" cy="399.4" r="1.35"/><circle cx="365.68" cy="394.95" r="1.35"/><circle cx="365.68" cy="390.5" r="1.35"/><circle cx="365.68" cy="386.05" r="1.35"/><circle cx="365.68" cy="377.15" r="1.35"/><circle cx="365.68" cy="372.7" r="1.35"/><circle cx="365.68" cy="368.25" r="1.35"/><circle cx="365.68" cy="363.8" r="1.35"/><circle cx="365.68" cy="359.35" r="1.35"/><circle cx="365.68" cy="354.9" r="1.35"/><circle cx="365.68" cy="350.45" r="1.35"/><circle cx="365.68" cy="346" r="1.35"/><circle cx="365.68" cy="341.55" r="1.35"/><circle cx="365.68" cy="337.1" r="1.35"/><circle cx="365.68" cy="332.65" r="1.35"/><circle cx="365.68" cy="328.2" r="1.35"/><circle cx="365.68" cy="323.75" r="1.35"/><circle cx="365.68" cy="319.3" r="1.35"/><circle cx="365.68" cy="314.85" r="1.35"/><circle cx="365.68" cy="310.4" r="1.35"/><circle cx="365.68" cy="305.95" r="1.35"/><circle cx="365.68" cy="301.5" r="1.35"/><circle cx="365.68" cy="297.05" r="1.35"/><circle cx="365.68" cy="292.6" r="1.35"/><circle cx="365.68" cy="288.15" r="1.35"/><circle cx="365.68" cy="283.7" r="1.35"/><circle cx="365.68" cy="279.25" r="1.35"/><circle cx="365.68" cy="274.8" r="1.35"/><circle cx="365.68" cy="270.35" r="1.35"/><circle cx="365.68" cy="265.9" r="1.35"/><circle cx="365.68" cy="261.45" r="1.35"/><circle cx="365.68" cy="257" r="1.35"/><circle cx="365.68" cy="252.55" r="1.35"/><circle cx="365.68" cy="248.1" r="1.35"/><circle cx="365.68" cy="243.65" r="1.35"/><circle cx="365.68" cy="239.2" r="1.35"/><circle cx="365.68" cy="234.75" r="1.35"/><circle cx="365.68" cy="230.3" r="1.35"/><circle cx="365.68" cy="225.85" r="1.35"/><circle cx="371.24" cy="443.9" r="1.35"/><circle cx="371.24" cy="439.45" r="1.35"/><circle cx="371.24" cy="435" r="1.35"/><circle cx="371.24" cy="430.55" r="1.35"/><circle cx="371.24" cy="426.1" r="1.35"/><circle cx="371.24" cy="421.65" r="1.35"/><circle cx="371.24" cy="417.2" r="1.35"/><circle cx="371.24" cy="408.3" r="1.35"/><circle cx="371.24" cy="403.85" r="1.35"/><circle cx="371.24" cy="399.4" r="1.35"/><circle cx="371.24" cy="394.95" r="1.35"/><circle cx="371.24" cy="390.5" r="1.35"/><circle cx="371.24" cy="386.05" r="1.35"/><circle cx="371.24" cy="377.15" r="1.35"/><circle cx="371.24" cy="372.7" r="1.35"/><circle cx="371.24" cy="368.25" r="1.35"/><circle cx="371.24" cy="363.8" r="1.35"/><circle cx="371.24" cy="359.35" r="1.35"/><circle cx="371.24" cy="354.9" r="1.35"/><circle cx="371.24" cy="350.45" r="1.35"/><circle cx="371.24" cy="346" r="1.35"/><circle cx="371.24" cy="341.55" r="1.35"/><circle cx="371.24" cy="337.1" r="1.35"/><circle cx="371.24" cy="332.65" r="1.35"/><circle cx="371.24" cy="328.2" r="1.35"/><circle cx="371.24" cy="323.75" r="1.35"/><circle cx="371.24" cy="319.3" r="1.35"/><circle cx="371.24" cy="314.85" r="1.35"/><circle cx="371.24" cy="310.4" r="1.35"/><circle cx="371.24" cy="305.95" r="1.35"/><circle cx="371.24" cy="301.5" r="1.35"/><circle cx="371.24" cy="297.05" r="1.35"/><circle cx="371.24" cy="292.6" r="1.35"/><circle cx="371.24" cy="288.15" r="1.35"/><circle cx="371.24" cy="283.7" r="1.35"/><circle cx="371.24" cy="279.25" r="1.35"/><circle cx="371.24" cy="274.8" r="1.35"/><circle cx="371.24" cy="270.35" r="1.35"/><circle cx="371.24" cy="265.9" r="1.35"/><circle cx="371.24" cy="261.45" r="1.35"/><circle cx="371.24" cy="257" r="1.35"/><circle cx="371.24" cy="252.55" r="1.35"/><circle cx="371.24" cy="248.1" r="1.35"/><circle cx="371.24" cy="243.65" r="1.35"/><circle cx="371.24" cy="239.2" r="1.35"/><circle cx="371.24" cy="234.75" r="1.35"/><circle cx="371.24" cy="230.3" r="1.35"/><circle cx="371.24" cy="225.85" r="1.35"/><circle cx="376.81" cy="461.7" r="1.35"/><circle cx="376.81" cy="452.8" r="1.35"/><circle cx="376.81" cy="448.35" r="1.35"/><circle cx="376.81" cy="443.9" r="1.35"/><circle cx="376.81" cy="439.45" r="1.35"/><circle cx="376.81" cy="435" r="1.35"/><circle cx="376.81" cy="430.55" r="1.35"/><circle cx="376.81" cy="426.1" r="1.35"/><circle cx="376.81" cy="421.65" r="1.35"/><circle cx="376.81" cy="417.2" r="1.35"/><circle cx="376.81" cy="412.75" r="1.35"/><circle cx="376.81" cy="408.3" r="1.35"/><circle cx="376.81" cy="403.85" r="1.35"/><circle cx="376.81" cy="399.4" r="1.35"/><circle cx="376.81" cy="394.95" r="1.35"/><circle cx="376.81" cy="390.5" r="1.35"/><circle cx="376.81" cy="386.05" r="1.35"/><circle cx="376.81" cy="381.6" r="1.35"/><circle cx="376.81" cy="377.15" r="1.35"/><circle cx="376.81" cy="372.7" r="1.35"/><circle cx="376.81" cy="368.25" r="1.35"/><circle cx="376.81" cy="363.8" r="1.35"/><circle cx="376.81" cy="359.35" r="1.35"/><circle cx="376.81" cy="354.9" r="1.35"/><circle cx="376.81" cy="350.45" r="1.35"/><circle cx="376.81" cy="346" r="1.35"/><circle cx="376.81" cy="341.55" r="1.35"/><circle cx="376.81" cy="337.1" r="1.35"/><circle cx="376.81" cy="332.65" r="1.35"/><circle cx="376.81" cy="328.2" r="1.35"/><circle cx="376.81" cy="323.75" r="1.35"/><circle cx="376.81" cy="319.3" r="1.35"/><circle cx="376.81" cy="314.85" r="1.35"/><circle cx="376.81" cy="310.4" r="1.35"/><circle cx="376.81" cy="305.95" r="1.35"/><circle cx="376.81" cy="301.5" r="1.35"/><circle cx="376.81" cy="297.05" r="1.35"/><circle cx="376.81" cy="292.6" r="1.35"/><circle cx="376.81" cy="288.15" r="1.35"/><circle cx="376.81" cy="283.7" r="1.35"/><circle cx="376.81" cy="279.25" r="1.35"/><circle cx="382.37" cy="466.15" r="1.35"/><circle cx="382.37" cy="457.25" r="1.35"/><circle cx="382.37" cy="452.8" r="1.35"/><circle cx="382.37" cy="448.35" r="1.35"/><circle cx="382.37" cy="443.9" r="1.35"/><circle cx="382.37" cy="439.45" r="1.35"/><circle cx="382.37" cy="435" r="1.35"/><circle cx="382.37" cy="430.55" r="1.35"/><circle cx="382.37" cy="426.1" r="1.35"/><circle cx="382.37" cy="421.65" r="1.35"/><circle cx="382.37" cy="417.2" r="1.35"/><circle cx="382.37" cy="412.75" r="1.35"/><circle cx="382.37" cy="408.3" r="1.35"/><circle cx="382.37" cy="403.85" r="1.35"/><circle cx="382.37" cy="399.4" r="1.35"/><circle cx="382.37" cy="394.95" r="1.35"/><circle cx="382.37" cy="390.5" r="1.35"/><circle cx="382.37" cy="386.05" r="1.35"/><circle cx="382.37" cy="381.6" r="1.35"/><circle cx="382.37" cy="377.15" r="1.35"/><circle cx="382.37" cy="372.7" r="1.35"/><circle cx="387.93" cy="466.15" r="1.35"/><circle cx="387.93" cy="457.25" r="1.35"/><circle cx="387.93" cy="452.8" r="1.35"/><circle cx="387.93" cy="448.35" r="1.35"/><circle cx="387.93" cy="443.9" r="1.35"/><circle cx="387.93" cy="439.45" r="1.35"/><circle cx="387.93" cy="435" r="1.35"/><circle cx="387.93" cy="430.55" r="1.35"/><circle cx="387.93" cy="426.1" r="1.35"/><circle cx="387.93" cy="421.65" r="1.35"/><circle cx="387.93" cy="417.2" r="1.35"/><circle cx="387.93" cy="412.75" r="1.35"/><circle cx="387.93" cy="408.3" r="1.35"/><circle cx="387.93" cy="403.85" r="1.35"/><circle cx="387.93" cy="399.4" r="1.35"/><circle cx="387.93" cy="394.95" r="1.35"/><circle cx="387.93" cy="390.5" r="1.35"/><circle cx="387.93" cy="386.05" r="1.35"/><circle cx="387.93" cy="381.6" r="1.35"/><circle cx="387.93" cy="377.15" r="1.35"/><circle cx="387.93" cy="372.7" r="1.35"/><circle cx="393.49" cy="466.15" r="1.35"/><circle cx="393.49" cy="457.25" r="1.35"/><circle cx="393.49" cy="452.8" r="1.35"/><circle cx="393.49" cy="448.35" r="1.35"/><circle cx="393.49" cy="443.9" r="1.35"/><circle cx="393.49" cy="439.45" r="1.35"/><circle cx="393.49" cy="435" r="1.35"/><circle cx="393.49" cy="430.55" r="1.35"/><circle cx="393.49" cy="426.1" r="1.35"/><circle cx="393.49" cy="421.65" r="1.35"/><circle cx="393.49" cy="417.2" r="1.35"/><circle cx="393.49" cy="412.75" r="1.35"/><circle cx="393.49" cy="408.3" r="1.35"/><circle cx="393.49" cy="403.85" r="1.35"/><circle cx="393.49" cy="399.4" r="1.35"/><circle cx="393.49" cy="394.95" r="1.35"/><circle cx="393.49" cy="390.5" r="1.35"/><circle cx="393.49" cy="386.05" r="1.35"/><circle cx="393.49" cy="381.6" r="1.35"/><circle cx="393.49" cy="377.15" r="1.35"/><circle cx="393.49" cy="372.7" r="1.35"/><circle cx="399.06" cy="466.15" r="1.35"/><circle cx="399.06" cy="457.25" r="1.35"/><circle cx="399.06" cy="452.8" r="1.35"/><circle cx="399.06" cy="448.35" r="1.35"/><circle cx="399.06" cy="443.9" r="1.35"/><circle cx="399.06" cy="439.45" r="1.35"/><circle cx="399.06" cy="435" r="1.35"/><circle cx="399.06" cy="430.55" r="1.35"/><circle cx="399.06" cy="426.1" r="1.35"/><circle cx="399.06" cy="421.65" r="1.35"/><circle cx="399.06" cy="417.2" r="1.35"/><circle cx="399.06" cy="412.75" r="1.35"/><circle cx="399.06" cy="408.3" r="1.35"/><circle cx="399.06" cy="403.85" r="1.35"/><circle cx="399.06" cy="399.4" r="1.35"/><circle cx="399.06" cy="394.95" r="1.35"/><circle cx="399.06" cy="390.5" r="1.35"/><circle cx="399.06" cy="386.05" r="1.35"/><circle cx="399.06" cy="381.6" r="1.35"/><circle cx="399.06" cy="377.15" r="1.35"/><circle cx="399.06" cy="372.7" r="1.35"/><circle cx="404.62" cy="466.15" r="1.35"/><circle cx="404.62" cy="457.25" r="1.35"/><circle cx="404.62" cy="452.8" r="1.35"/><circle cx="404.62" cy="448.35" r="1.35"/><circle cx="404.62" cy="443.9" r="1.35"/><circle cx="404.62" cy="439.45" r="1.35"/><circle cx="404.62" cy="435" r="1.35"/><circle cx="404.62" cy="430.55" r="1.35"/><circle cx="404.62" cy="426.1" r="1.35"/><circle cx="404.62" cy="421.65" r="1.35"/><circle cx="404.62" cy="417.2" r="1.35"/><circle cx="404.62" cy="412.75" r="1.35"/><circle cx="404.62" cy="408.3" r="1.35"/><circle cx="404.62" cy="403.85" r="1.35"/><circle cx="404.62" cy="399.4" r="1.35"/><circle cx="404.62" cy="394.95" r="1.35"/><circle cx="404.62" cy="390.5" r="1.35"/><circle cx="404.62" cy="386.05" r="1.35"/><circle cx="404.62" cy="381.6" r="1.35"/><circle cx="404.62" cy="377.15" r="1.35"/><circle cx="404.62" cy="372.7" r="1.35"/><circle cx="410.18" cy="466.15" r="1.35"/><circle cx="410.18" cy="457.25" r="1.35"/><circle cx="410.18" cy="452.8" r="1.35"/><circle cx="410.18" cy="448.35" r="1.35"/><circle cx="410.18" cy="443.9" r="1.35"/><circle cx="410.18" cy="439.45" r="1.35"/><circle cx="410.18" cy="435" r="1.35"/><circle cx="410.18" cy="430.55" r="1.35"/><circle cx="410.18" cy="426.1" r="1.35"/><circle cx="410.18" cy="421.65" r="1.35"/><circle cx="410.18" cy="417.2" r="1.35"/><circle cx="410.18" cy="412.75" r="1.35"/><circle cx="410.18" cy="408.3" r="1.35"/><circle cx="410.18" cy="403.85" r="1.35"/><circle cx="410.18" cy="399.4" r="1.35"/><circle cx="410.18" cy="394.95" r="1.35"/><circle cx="410.18" cy="390.5" r="1.35"/><circle cx="410.18" cy="386.05" r="1.35"/><circle cx="410.18" cy="381.6" r="1.35"/><circle cx="410.18" cy="377.15" r="1.35"/><circle cx="410.18" cy="372.7" r="1.35"/><circle cx="415.75" cy="466.15" r="1.35"/><circle cx="415.75" cy="457.25" r="1.35"/><circle cx="415.75" cy="452.8" r="1.35"/><circle cx="415.75" cy="448.35" r="1.35"/><circle cx="415.75" cy="443.9" r="1.35"/><circle cx="415.75" cy="439.45" r="1.35"/><circle cx="415.75" cy="435" r="1.35"/><circle cx="415.75" cy="430.55" r="1.35"/><circle cx="415.75" cy="426.1" r="1.35"/><circle cx="415.75" cy="421.65" r="1.35"/><circle cx="415.75" cy="417.2" r="1.35"/><circle cx="415.75" cy="412.75" r="1.35"/><circle cx="415.75" cy="408.3" r="1.35"/><circle cx="415.75" cy="403.85" r="1.35"/><circle cx="415.75" cy="399.4" r="1.35"/><circle cx="415.75" cy="394.95" r="1.35"/><circle cx="415.75" cy="390.5" r="1.35"/><circle cx="415.75" cy="386.05" r="1.35"/><circle cx="415.75" cy="381.6" r="1.35"/><circle cx="415.75" cy="377.15" r="1.35"/><circle cx="415.75" cy="372.7" r="1.35"/><circle cx="421.31" cy="443.9" r="1.35"/><circle cx="421.31" cy="439.45" r="1.35"/><circle cx="421.31" cy="435" r="1.35"/><circle cx="421.31" cy="430.55" r="1.35"/><circle cx="421.31" cy="426.1" r="1.35"/><circle cx="421.31" cy="421.65" r="1.35"/><circle cx="421.31" cy="417.2" r="1.35"/><circle cx="421.31" cy="408.3" r="1.35"/><circle cx="421.31" cy="403.85" r="1.35"/><circle cx="421.31" cy="399.4" r="1.35"/><circle cx="421.31" cy="394.95" r="1.35"/><circle cx="421.31" cy="390.5" r="1.35"/><circle cx="421.31" cy="386.05" r="1.35"/><circle cx="421.31" cy="377.15" r="1.35"/><circle cx="421.31" cy="372.7" r="1.35"/><circle cx="421.31" cy="368.25" r="1.35"/><circle cx="421.31" cy="363.8" r="1.35"/><circle cx="421.31" cy="359.35" r="1.35"/><circle cx="421.31" cy="354.9" r="1.35"/><circle cx="421.31" cy="350.45" r="1.35"/><circle cx="421.31" cy="346" r="1.35"/><circle cx="421.31" cy="341.55" r="1.35"/><circle cx="421.31" cy="337.1" r="1.35"/><circle cx="421.31" cy="332.65" r="1.35"/><circle cx="421.31" cy="328.2" r="1.35"/><circle cx="421.31" cy="323.75" r="1.35"/><circle cx="421.31" cy="319.3" r="1.35"/><circle cx="421.31" cy="314.85" r="1.35"/><circle cx="421.31" cy="310.4" r="1.35"/><circle cx="421.31" cy="305.95" r="1.35"/><circle cx="421.31" cy="301.5" r="1.35"/><circle cx="421.31" cy="297.05" r="1.35"/><circle cx="421.31" cy="292.6" r="1.35"/><circle cx="421.31" cy="288.15" r="1.35"/><circle cx="421.31" cy="283.7" r="1.35"/><circle cx="421.31" cy="279.25" r="1.35"/><circle cx="421.31" cy="274.8" r="1.35"/><circle cx="421.31" cy="270.35" r="1.35"/><circle cx="421.31" cy="265.9" r="1.35"/><circle cx="421.31" cy="261.45" r="1.35"/><circle cx="421.31" cy="257" r="1.35"/><circle cx="421.31" cy="252.55" r="1.35"/><circle cx="421.31" cy="248.1" r="1.35"/><circle cx="421.31" cy="243.65" r="1.35"/><circle cx="421.31" cy="239.2" r="1.35"/><circle cx="421.31" cy="234.75" r="1.35"/><circle cx="421.31" cy="230.3" r="1.35"/><circle cx="421.31" cy="225.85" r="1.35"/><circle cx="421.31" cy="221.4" r="1.35"/><circle cx="421.31" cy="216.95" r="1.35"/><circle cx="421.31" cy="212.5" r="1.35"/><circle cx="421.31" cy="208.05" r="1.35"/><circle cx="421.31" cy="203.6" r="1.35"/><circle cx="426.87" cy="443.9" r="1.35"/><circle cx="426.87" cy="439.45" r="1.35"/><circle cx="426.87" cy="435" r="1.35"/><circle cx="426.87" cy="430.55" r="1.35"/><circle cx="426.87" cy="426.1" r="1.35"/><circle cx="426.87" cy="421.65" r="1.35"/><circle cx="426.87" cy="417.2" r="1.35"/><circle cx="426.87" cy="408.3" r="1.35"/><circle cx="426.87" cy="403.85" r="1.35"/><circle cx="426.87" cy="399.4" r="1.35"/><circle cx="426.87" cy="394.95" r="1.35"/><circle cx="426.87" cy="390.5" r="1.35"/><circle cx="426.87" cy="386.05" r="1.35"/><circle cx="426.87" cy="377.15" r="1.35"/><circle cx="426.87" cy="372.7" r="1.35"/><circle cx="426.87" cy="368.25" r="1.35"/><circle cx="426.87" cy="363.8" r="1.35"/><circle cx="426.87" cy="359.35" r="1.35"/><circle cx="426.87" cy="354.9" r="1.35"/><circle cx="426.87" cy="350.45" r="1.35"/><circle cx="426.87" cy="346" r="1.35"/><circle cx="426.87" cy="341.55" r="1.35"/><circle cx="426.87" cy="337.1" r="1.35"/><circle cx="426.87" cy="332.65" r="1.35"/><circle cx="426.87" cy="328.2" r="1.35"/><circle cx="426.87" cy="323.75" r="1.35"/><circle cx="426.87" cy="319.3" r="1.35"/><circle cx="426.87" cy="314.85" r="1.35"/><circle cx="426.87" cy="310.4" r="1.35"/><circle cx="426.87" cy="305.95" r="1.35"/><circle cx="426.87" cy="301.5" r="1.35"/><circle cx="426.87" cy="297.05" r="1.35"/><circle cx="426.87" cy="292.6" r="1.35"/><circle cx="426.87" cy="288.15" r="1.35"/><circle cx="426.87" cy="283.7" r="1.35"/><circle cx="426.87" cy="279.25" r="1.35"/><circle cx="426.87" cy="274.8" r="1.35"/><circle cx="426.87" cy="270.35" r="1.35"/><circle cx="426.87" cy="265.9" r="1.35"/><circle cx="426.87" cy="261.45" r="1.35"/><circle cx="426.87" cy="257" r="1.35"/><circle cx="426.87" cy="252.55" r="1.35"/><circle cx="426.87" cy="248.1" r="1.35"/><circle cx="426.87" cy="243.65" r="1.35"/><circle cx="426.87" cy="239.2" r="1.35"/><circle cx="426.87" cy="234.75" r="1.35"/><circle cx="426.87" cy="230.3" r="1.35"/><circle cx="426.87" cy="225.85" r="1.35"/><circle cx="426.87" cy="221.4" r="1.35"/><circle cx="426.87" cy="216.95" r="1.35"/><circle cx="426.87" cy="212.5" r="1.35"/><circle cx="426.87" cy="208.05" r="1.35"/><circle cx="426.87" cy="203.6" r="1.35"/><circle cx="432.44" cy="443.9" r="1.35"/><circle cx="432.44" cy="439.45" r="1.35"/><circle cx="432.44" cy="435" r="1.35"/><circle cx="432.44" cy="430.55" r="1.35"/><circle cx="432.44" cy="426.1" r="1.35"/><circle cx="432.44" cy="421.65" r="1.35"/><circle cx="432.44" cy="412.75" r="1.35"/><circle cx="432.44" cy="403.85" r="1.35"/><circle cx="432.44" cy="394.95" r="1.35"/><circle cx="432.44" cy="386.05" r="1.35"/><circle cx="432.44" cy="377.15" r="1.35"/><circle cx="432.44" cy="368.25" r="1.35"/><circle cx="432.44" cy="354.9" r="1.35"/><circle cx="432.44" cy="341.55" r="1.35"/><circle cx="432.44" cy="328.2" r="1.35"/><circle cx="432.44" cy="314.85" r="1.35"/><circle cx="432.44" cy="301.5" r="1.35"/><circle cx="432.44" cy="288.15" r="1.35"/><circle cx="432.44" cy="274.8" r="1.35"/><circle cx="432.44" cy="261.45" r="1.35"/><circle cx="432.44" cy="239.2" r="1.35"/><circle cx="432.44" cy="230.3" r="1.35"/><circle cx="432.44" cy="225.85" r="1.35"/><circle cx="432.44" cy="221.4" r="1.35"/><circle cx="432.44" cy="216.95" r="1.35"/><circle cx="432.44" cy="212.5" r="1.35"/><circle cx="432.44" cy="208.05" r="1.35"/><circle cx="432.44" cy="203.6" r="1.35"/><circle cx="438" cy="443.9" r="1.35"/><circle cx="438" cy="439.45" r="1.35"/><circle cx="438" cy="435" r="1.35"/><circle cx="438" cy="430.55" r="1.35"/><circle cx="438" cy="426.1" r="1.35"/><circle cx="438" cy="421.65" r="1.35"/><circle cx="438" cy="412.75" r="1.35"/><circle cx="438" cy="403.85" r="1.35"/><circle cx="438" cy="394.95" r="1.35"/><circle cx="438" cy="386.05" r="1.35"/><circle cx="438" cy="377.15" r="1.35"/><circle cx="438" cy="368.25" r="1.35"/><circle cx="438" cy="354.9" r="1.35"/><circle cx="438" cy="341.55" r="1.35"/><circle cx="438" cy="328.2" r="1.35"/><circle cx="438" cy="314.85" r="1.35"/><circle cx="438" cy="301.5" r="1.35"/><circle cx="438" cy="288.15" r="1.35"/><circle cx="438" cy="274.8" r="1.35"/><circle cx="438" cy="261.45" r="1.35"/><circle cx="438" cy="239.2" r="1.35"/><circle cx="438" cy="230.3" r="1.35"/><circle cx="438" cy="225.85" r="1.35"/><circle cx="438" cy="221.4" r="1.35"/><circle cx="438" cy="216.95" r="1.35"/><circle cx="438" cy="212.5" r="1.35"/><circle cx="438" cy="208.05" r="1.35"/><circle cx="438" cy="203.6" r="1.35"/><circle cx="443.56" cy="443.9" r="1.35"/><circle cx="443.56" cy="439.45" r="1.35"/><circle cx="443.56" cy="435" r="1.35"/><circle cx="443.56" cy="430.55" r="1.35"/><circle cx="443.56" cy="426.1" r="1.35"/><circle cx="443.56" cy="421.65" r="1.35"/><circle cx="443.56" cy="412.75" r="1.35"/><circle cx="443.56" cy="403.85" r="1.35"/><circle cx="443.56" cy="394.95" r="1.35"/><circle cx="443.56" cy="386.05" r="1.35"/><circle cx="443.56" cy="377.15" r="1.35"/><circle cx="443.56" cy="368.25" r="1.35"/><circle cx="443.56" cy="354.9" r="1.35"/><circle cx="443.56" cy="341.55" r="1.35"/><circle cx="443.56" cy="323.75" r="1.35"/><circle cx="443.56" cy="305.95" r="1.35"/><circle cx="443.56" cy="288.15" r="1.35"/><circle cx="443.56" cy="270.35" r="1.35"/><circle cx="443.56" cy="252.55" r="1.35"/><circle cx="443.56" cy="234.75" r="1.35"/><circle cx="443.56" cy="216.95" r="1.35"/><circle cx="443.56" cy="203.6" r="1.35"/><circle cx="443.56" cy="194.7" r="1.35"/><circle cx="443.56" cy="185.8" r="1.35"/><circle cx="443.56" cy="176.9" r="1.35"/><circle cx="443.56" cy="168" r="1.35"/><circle cx="443.56" cy="159.1" r="1.35"/><circle cx="443.56" cy="150.2" r="1.35"/><circle cx="443.56" cy="141.3" r="1.35"/><circle cx="443.56" cy="136.85" r="1.35"/><circle cx="443.56" cy="132.4" r="1.35"/><circle cx="449.12" cy="443.9" r="1.35"/><circle cx="449.12" cy="439.45" r="1.35"/><circle cx="449.12" cy="435" r="1.35"/><circle cx="449.12" cy="430.55" r="1.35"/><circle cx="449.12" cy="426.1" r="1.35"/><circle cx="449.12" cy="421.65" r="1.35"/><circle cx="449.12" cy="412.75" r="1.35"/><circle cx="449.12" cy="403.85" r="1.35"/><circle cx="449.12" cy="394.95" r="1.35"/><circle cx="449.12" cy="386.05" r="1.35"/><circle cx="449.12" cy="377.15" r="1.35"/><circle cx="449.12" cy="368.25" r="1.35"/><circle cx="449.12" cy="354.9" r="1.35"/><circle cx="449.12" cy="341.55" r="1.35"/><circle cx="449.12" cy="323.75" r="1.35"/><circle cx="449.12" cy="305.95" r="1.35"/><circle cx="449.12" cy="288.15" r="1.35"/><circle cx="449.12" cy="270.35" r="1.35"/><circle cx="449.12" cy="252.55" r="1.35"/><circle cx="449.12" cy="234.75" r="1.35"/><circle cx="449.12" cy="216.95" r="1.35"/><circle cx="449.12" cy="203.6" r="1.35"/><circle cx="449.12" cy="194.7" r="1.35"/><circle cx="449.12" cy="185.8" r="1.35"/><circle cx="449.12" cy="176.9" r="1.35"/><circle cx="449.12" cy="168" r="1.35"/><circle cx="449.12" cy="159.1" r="1.35"/><circle cx="449.12" cy="150.2" r="1.35"/><circle cx="449.12" cy="141.3" r="1.35"/><circle cx="449.12" cy="136.85" r="1.35"/><circle cx="449.12" cy="132.4" r="1.35"/><circle cx="454.69" cy="443.9" r="1.35"/><circle cx="454.69" cy="439.45" r="1.35"/><circle cx="454.69" cy="435" r="1.35"/><circle cx="454.69" cy="430.55" r="1.35"/><circle cx="454.69" cy="426.1" r="1.35"/><circle cx="454.69" cy="421.65" r="1.35"/><circle cx="454.69" cy="412.75" r="1.35"/><circle cx="454.69" cy="403.85" r="1.35"/><circle cx="454.69" cy="394.95" r="1.35"/><circle cx="454.69" cy="386.05" r="1.35"/><circle cx="454.69" cy="377.15" r="1.35"/><circle cx="454.69" cy="368.25" r="1.35"/><circle cx="454.69" cy="354.9" r="1.35"/><circle cx="454.69" cy="341.55" r="1.35"/><circle cx="454.69" cy="323.75" r="1.35"/><circle cx="454.69" cy="305.95" r="1.35"/><circle cx="454.69" cy="288.15" r="1.35"/><circle cx="454.69" cy="270.35" r="1.35"/><circle cx="454.69" cy="252.55" r="1.35"/><circle cx="454.69" cy="234.75" r="1.35"/><circle cx="454.69" cy="216.95" r="1.35"/><circle cx="454.69" cy="203.6" r="1.35"/><circle cx="454.69" cy="194.7" r="1.35"/><circle cx="454.69" cy="185.8" r="1.35"/><circle cx="454.69" cy="176.9" r="1.35"/><circle cx="454.69" cy="168" r="1.35"/><circle cx="454.69" cy="159.1" r="1.35"/><circle cx="454.69" cy="150.2" r="1.35"/><circle cx="454.69" cy="141.3" r="1.35"/><circle cx="454.69" cy="136.85" r="1.35"/><circle cx="454.69" cy="132.4" r="1.35"/><circle cx="460.25" cy="443.9" r="1.35"/><circle cx="460.25" cy="439.45" r="1.35"/><circle cx="460.25" cy="435" r="1.35"/><circle cx="460.25" cy="430.55" r="1.35"/><circle cx="460.25" cy="426.1" r="1.35"/><circle cx="460.25" cy="421.65" r="1.35"/><circle cx="460.25" cy="412.75" r="1.35"/><circle cx="460.25" cy="403.85" r="1.35"/><circle cx="460.25" cy="394.95" r="1.35"/><circle cx="460.25" cy="386.05" r="1.35"/><circle cx="460.25" cy="377.15" r="1.35"/><circle cx="460.25" cy="368.25" r="1.35"/><circle cx="460.25" cy="354.9" r="1.35"/><circle cx="460.25" cy="341.55" r="1.35"/><circle cx="460.25" cy="323.75" r="1.35"/><circle cx="460.25" cy="305.95" r="1.35"/><circle cx="460.25" cy="288.15" r="1.35"/><circle cx="460.25" cy="270.35" r="1.35"/><circle cx="460.25" cy="252.55" r="1.35"/><circle cx="460.25" cy="234.75" r="1.35"/><circle cx="460.25" cy="216.95" r="1.35"/><circle cx="460.25" cy="203.6" r="1.35"/><circle cx="460.25" cy="194.7" r="1.35"/><circle cx="460.25" cy="185.8" r="1.35"/><circle cx="460.25" cy="176.9" r="1.35"/><circle cx="460.25" cy="168" r="1.35"/><circle cx="460.25" cy="159.1" r="1.35"/><circle cx="460.25" cy="150.2" r="1.35"/><circle cx="460.25" cy="141.3" r="1.35"/><circle cx="460.25" cy="136.85" r="1.35"/><circle cx="460.25" cy="132.4" r="1.35"/><circle cx="465.81" cy="443.9" r="1.35"/><circle cx="465.81" cy="435" r="1.35"/><circle cx="465.81" cy="426.1" r="1.35"/><circle cx="465.81" cy="417.2" r="1.35"/><circle cx="465.81" cy="408.3" r="1.35"/><circle cx="465.81" cy="394.95" r="1.35"/><circle cx="465.81" cy="381.6" r="1.35"/><circle cx="465.81" cy="368.25" r="1.35"/><circle cx="465.81" cy="354.9" r="1.35"/><circle cx="465.81" cy="341.55" r="1.35"/><circle cx="465.81" cy="328.2" r="1.35"/><circle cx="465.81" cy="314.85" r="1.35"/><circle cx="465.81" cy="301.5" r="1.35"/><circle cx="465.81" cy="283.7" r="1.35"/><circle cx="465.81" cy="265.9" r="1.35"/><circle cx="465.81" cy="252.55" r="1.35"/><circle cx="465.81" cy="239.2" r="1.35"/><circle cx="465.81" cy="225.85" r="1.35"/><circle cx="465.81" cy="212.5" r="1.35"/><circle cx="465.81" cy="203.6" r="1.35"/><circle cx="465.81" cy="194.7" r="1.35"/><circle cx="465.81" cy="185.8" r="1.35"/><circle cx="465.81" cy="176.9" r="1.35"/><circle cx="465.81" cy="168" r="1.35"/><circle cx="465.81" cy="159.1" r="1.35"/><circle cx="465.81" cy="150.2" r="1.35"/><circle cx="465.81" cy="141.3" r="1.35"/><circle cx="465.81" cy="136.85" r="1.35"/><circle cx="465.81" cy="132.4" r="1.35"/><circle cx="471.38" cy="421.65" r="1.35"/><circle cx="471.38" cy="403.85" r="1.35"/><circle cx="471.38" cy="386.05" r="1.35"/><circle cx="471.38" cy="368.25" r="1.35"/><circle cx="471.38" cy="350.45" r="1.35"/><circle cx="471.38" cy="332.65" r="1.35"/><circle cx="471.38" cy="319.3" r="1.35"/><circle cx="471.38" cy="305.95" r="1.35"/><circle cx="471.38" cy="292.6" r="1.35"/><circle cx="471.38" cy="279.25" r="1.35"/><circle cx="471.38" cy="265.9" r="1.35"/><circle cx="471.38" cy="252.55" r="1.35"/><circle cx="471.38" cy="239.2" r="1.35"/><circle cx="471.38" cy="225.85" r="1.35"/><circle cx="471.38" cy="216.95" r="1.35"/><circle cx="471.38" cy="208.05" r="1.35"/><circle cx="471.38" cy="199.15" r="1.35"/><circle cx="471.38" cy="190.25" r="1.35"/><circle cx="471.38" cy="181.35" r="1.35"/><circle cx="471.38" cy="176.9" r="1.35"/><circle cx="471.38" cy="172.45" r="1.35"/><circle cx="471.38" cy="168" r="1.35"/><circle cx="471.38" cy="163.55" r="1.35"/><circle cx="471.38" cy="154.65" r="1.35"/><circle cx="471.38" cy="145.75" r="1.35"/><circle cx="471.38" cy="141.3" r="1.35"/><circle cx="471.38" cy="136.85" r="1.35"/><circle cx="471.38" cy="132.4" r="1.35"/><circle cx="471.38" cy="127.95" r="1.35"/><circle cx="471.38" cy="123.5" r="1.35"/><circle cx="476.94" cy="381.6" r="1.35"/><circle cx="476.94" cy="363.8" r="1.35"/><circle cx="476.94" cy="346" r="1.35"/><circle cx="476.94" cy="328.2" r="1.35"/><circle cx="476.94" cy="310.4" r="1.35"/><circle cx="476.94" cy="292.6" r="1.35"/><circle cx="476.94" cy="274.8" r="1.35"/><circle cx="476.94" cy="261.45" r="1.35"/><circle cx="476.94" cy="248.1" r="1.35"/><circle cx="476.94" cy="234.75" r="1.35"/><circle cx="476.94" cy="221.4" r="1.35"/><circle cx="476.94" cy="208.05" r="1.35"/><circle cx="476.94" cy="194.7" r="1.35"/><circle cx="476.94" cy="181.35" r="1.35"/><circle cx="476.94" cy="172.45" r="1.35"/><circle cx="476.94" cy="159.1" r="1.35"/><circle cx="476.94" cy="145.75" r="1.35"/><circle cx="476.94" cy="132.4" r="1.35"/><circle cx="476.94" cy="119.05" r="1.35"/><circle cx="476.94" cy="110.15" r="1.35"/><circle cx="476.94" cy="101.25" r="1.35"/><circle cx="476.94" cy="92.35" r="1.35"/><circle cx="482.5" cy="381.6" r="1.35"/><circle cx="482.5" cy="363.8" r="1.35"/><circle cx="482.5" cy="346" r="1.35"/><circle cx="482.5" cy="328.2" r="1.35"/><circle cx="482.5" cy="310.4" r="1.35"/><circle cx="482.5" cy="292.6" r="1.35"/><circle cx="482.5" cy="274.8" r="1.35"/><circle cx="482.5" cy="261.45" r="1.35"/><circle cx="482.5" cy="248.1" r="1.35"/><circle cx="482.5" cy="234.75" r="1.35"/><circle cx="482.5" cy="221.4" r="1.35"/><circle cx="482.5" cy="208.05" r="1.35"/><circle cx="482.5" cy="194.7" r="1.35"/><circle cx="482.5" cy="181.35" r="1.35"/><circle cx="482.5" cy="172.45" r="1.35"/><circle cx="482.5" cy="159.1" r="1.35"/><circle cx="482.5" cy="145.75" r="1.35"/><circle cx="482.5" cy="132.4" r="1.35"/><circle cx="482.5" cy="119.05" r="1.35"/><circle cx="482.5" cy="110.15" r="1.35"/><circle cx="482.5" cy="101.25" r="1.35"/><circle cx="482.5" cy="92.35" r="1.35"/><circle cx="488.07" cy="368.25" r="1.35"/><circle cx="488.07" cy="350.45" r="1.35"/><circle cx="488.07" cy="332.65" r="1.35"/><circle cx="488.07" cy="314.85" r="1.35"/><circle cx="488.07" cy="297.05" r="1.35"/><circle cx="488.07" cy="274.8" r="1.35"/><circle cx="488.07" cy="257" r="1.35"/><circle cx="488.07" cy="243.65" r="1.35"/><circle cx="488.07" cy="230.3" r="1.35"/><circle cx="488.07" cy="216.95" r="1.35"/><circle cx="488.07" cy="203.6" r="1.35"/><circle cx="488.07" cy="190.25" r="1.35"/><circle cx="488.07" cy="176.9" r="1.35"/><circle cx="488.07" cy="159.1" r="1.35"/><circle cx="488.07" cy="145.75" r="1.35"/><circle cx="488.07" cy="132.4" r="1.35"/><circle cx="488.07" cy="119.05" r="1.35"/><circle cx="488.07" cy="105.7" r="1.35"/><circle cx="488.07" cy="92.35" r="1.35"/><circle cx="488.07" cy="79" r="1.35"/><circle cx="488.07" cy="70.1" r="1.35"/><circle cx="488.07" cy="65.65" r="1.35"/><circle cx="493.63" cy="368.25" r="1.35"/><circle cx="493.63" cy="350.45" r="1.35"/><circle cx="493.63" cy="332.65" r="1.35"/><circle cx="493.63" cy="314.85" r="1.35"/><circle cx="493.63" cy="297.05" r="1.35"/><circle cx="493.63" cy="274.8" r="1.35"/><circle cx="493.63" cy="257" r="1.35"/><circle cx="493.63" cy="243.65" r="1.35"/><circle cx="493.63" cy="230.3" r="1.35"/><circle cx="493.63" cy="216.95" r="1.35"/><circle cx="493.63" cy="203.6" r="1.35"/><circle cx="493.63" cy="190.25" r="1.35"/><circle cx="493.63" cy="176.9" r="1.35"/><circle cx="493.63" cy="159.1" r="1.35"/><circle cx="493.63" cy="145.75" r="1.35"/><circle cx="493.63" cy="132.4" r="1.35"/><circle cx="493.63" cy="119.05" r="1.35"/><circle cx="493.63" cy="105.7" r="1.35"/><circle cx="493.63" cy="92.35" r="1.35"/><circle cx="493.63" cy="79" r="1.35"/><circle cx="493.63" cy="70.1" r="1.35"/><circle cx="493.63" cy="65.65" r="1.35"/><circle cx="499.19" cy="381.6" r="1.35"/><circle cx="499.19" cy="363.8" r="1.35"/><circle cx="499.19" cy="346" r="1.35"/><circle cx="499.19" cy="328.2" r="1.35"/><circle cx="499.19" cy="310.4" r="1.35"/><circle cx="499.19" cy="288.15" r="1.35"/><circle cx="499.19" cy="270.35" r="1.35"/><circle cx="499.19" cy="257" r="1.35"/><circle cx="499.19" cy="243.65" r="1.35"/><circle cx="499.19" cy="230.3" r="1.35"/><circle cx="499.19" cy="216.95" r="1.35"/><circle cx="499.19" cy="203.6" r="1.35"/><circle cx="499.19" cy="190.25" r="1.35"/><circle cx="499.19" cy="172.45" r="1.35"/><circle cx="499.19" cy="159.1" r="1.35"/><circle cx="499.19" cy="145.75" r="1.35"/><circle cx="499.19" cy="132.4" r="1.35"/><circle cx="499.19" cy="119.05" r="1.35"/><circle cx="499.19" cy="105.7" r="1.35"/><circle cx="499.19" cy="92.35" r="1.35"/><circle cx="499.19" cy="83.45" r="1.35"/><circle cx="499.19" cy="79" r="1.35"/><circle cx="504.75" cy="381.6" r="1.35"/><circle cx="504.75" cy="363.8" r="1.35"/><circle cx="504.75" cy="346" r="1.35"/><circle cx="504.75" cy="328.2" r="1.35"/><circle cx="504.75" cy="310.4" r="1.35"/><circle cx="504.75" cy="288.15" r="1.35"/><circle cx="504.75" cy="270.35" r="1.35"/><circle cx="504.75" cy="257" r="1.35"/><circle cx="504.75" cy="243.65" r="1.35"/><circle cx="504.75" cy="230.3" r="1.35"/><circle cx="504.75" cy="216.95" r="1.35"/><circle cx="504.75" cy="203.6" r="1.35"/><circle cx="504.75" cy="190.25" r="1.35"/><circle cx="504.75" cy="172.45" r="1.35"/><circle cx="504.75" cy="159.1" r="1.35"/><circle cx="504.75" cy="145.75" r="1.35"/><circle cx="504.75" cy="132.4" r="1.35"/><circle cx="504.75" cy="119.05" r="1.35"/><circle cx="504.75" cy="105.7" r="1.35"/><circle cx="504.75" cy="92.35" r="1.35"/><circle cx="504.75" cy="83.45" r="1.35"/><circle cx="504.75" cy="79" r="1.35"/><circle cx="510.32" cy="381.6" r="1.35"/><circle cx="510.32" cy="363.8" r="1.35"/><circle cx="510.32" cy="346" r="1.35"/><circle cx="510.32" cy="328.2" r="1.35"/><circle cx="510.32" cy="310.4" r="1.35"/><circle cx="510.32" cy="288.15" r="1.35"/><circle cx="510.32" cy="270.35" r="1.35"/><circle cx="510.32" cy="257" r="1.35"/><circle cx="510.32" cy="243.65" r="1.35"/><circle cx="510.32" cy="230.3" r="1.35"/><circle cx="510.32" cy="216.95" r="1.35"/><circle cx="510.32" cy="203.6" r="1.35"/><circle cx="510.32" cy="190.25" r="1.35"/><circle cx="510.32" cy="172.45" r="1.35"/><circle cx="510.32" cy="159.1" r="1.35"/><circle cx="510.32" cy="145.75" r="1.35"/><circle cx="510.32" cy="132.4" r="1.35"/><circle cx="510.32" cy="119.05" r="1.35"/><circle cx="510.32" cy="105.7" r="1.35"/><circle cx="510.32" cy="92.35" r="1.35"/><circle cx="510.32" cy="83.45" r="1.35"/><circle cx="510.32" cy="79" r="1.35"/><circle cx="515.88" cy="381.6" r="1.35"/><circle cx="515.88" cy="363.8" r="1.35"/><circle cx="515.88" cy="346" r="1.35"/><circle cx="515.88" cy="328.2" r="1.35"/><circle cx="515.88" cy="310.4" r="1.35"/><circle cx="515.88" cy="288.15" r="1.35"/><circle cx="515.88" cy="270.35" r="1.35"/><circle cx="515.88" cy="257" r="1.35"/><circle cx="515.88" cy="243.65" r="1.35"/><circle cx="515.88" cy="230.3" r="1.35"/><circle cx="515.88" cy="216.95" r="1.35"/><circle cx="515.88" cy="203.6" r="1.35"/><circle cx="515.88" cy="190.25" r="1.35"/><circle cx="515.88" cy="172.45" r="1.35"/><circle cx="515.88" cy="159.1" r="1.35"/><circle cx="515.88" cy="145.75" r="1.35"/><circle cx="515.88" cy="132.4" r="1.35"/><circle cx="515.88" cy="119.05" r="1.35"/><circle cx="515.88" cy="105.7" r="1.35"/><circle cx="515.88" cy="92.35" r="1.35"/><circle cx="515.88" cy="83.45" r="1.35"/><circle cx="515.88" cy="79" r="1.35"/><circle cx="521.44" cy="381.6" r="1.35"/><circle cx="521.44" cy="363.8" r="1.35"/><circle cx="521.44" cy="346" r="1.35"/><circle cx="521.44" cy="328.2" r="1.35"/><circle cx="521.44" cy="310.4" r="1.35"/><circle cx="521.44" cy="288.15" r="1.35"/><circle cx="521.44" cy="270.35" r="1.35"/><circle cx="521.44" cy="257" r="1.35"/><circle cx="521.44" cy="243.65" r="1.35"/><circle cx="521.44" cy="230.3" r="1.35"/><circle cx="521.44" cy="216.95" r="1.35"/><circle cx="521.44" cy="203.6" r="1.35"/><circle cx="521.44" cy="190.25" r="1.35"/><circle cx="521.44" cy="172.45" r="1.35"/><circle cx="521.44" cy="159.1" r="1.35"/><circle cx="521.44" cy="145.75" r="1.35"/><circle cx="521.44" cy="132.4" r="1.35"/><circle cx="521.44" cy="119.05" r="1.35"/><circle cx="521.44" cy="105.7" r="1.35"/><circle cx="521.44" cy="92.35" r="1.35"/><circle cx="521.44" cy="83.45" r="1.35"/><circle cx="521.44" cy="79" r="1.35"/><circle cx="527.01" cy="379.82" r="1.35"/><circle cx="527.01" cy="359.35" r="1.35"/><circle cx="527.01" cy="346" r="1.35"/><circle cx="527.01" cy="323.75" r="1.35"/><circle cx="527.01" cy="305.95" r="1.35"/><circle cx="527.01" cy="288.15" r="1.35"/><circle cx="527.01" cy="265.9" r="1.35"/><circle cx="527.01" cy="252.55" r="1.35"/><circle cx="527.01" cy="239.2" r="1.35"/><circle cx="527.01" cy="225.85" r="1.35"/><circle cx="527.01" cy="212.5" r="1.35"/><circle cx="527.01" cy="199.15" r="1.35"/><circle cx="527.01" cy="185.8" r="1.35"/><circle cx="527.01" cy="172.45" r="1.35"/><circle cx="527.01" cy="154.65" r="1.35"/><circle cx="527.01" cy="145.75" r="1.35"/><circle cx="527.01" cy="132.4" r="1.35"/><circle cx="527.01" cy="114.6" r="1.35"/><circle cx="527.01" cy="105.7" r="1.35"/><circle cx="527.01" cy="92.35" r="1.35"/><circle cx="527.01" cy="83.45" r="1.35"/><circle cx="527.01" cy="79" r="1.35"/><circle cx="532.57" cy="370.03" r="1.35"/><circle cx="532.57" cy="350.45" r="1.35"/><circle cx="532.57" cy="328.2" r="1.35"/><circle cx="532.57" cy="310.4" r="1.35"/><circle cx="532.57" cy="292.6" r="1.35"/><circle cx="532.57" cy="265.9" r="1.35"/><circle cx="532.57" cy="243.65" r="1.35"/><circle cx="532.57" cy="230.3" r="1.35"/><circle cx="532.57" cy="216.95" r="1.35"/><circle cx="532.57" cy="203.6" r="1.35"/><circle cx="532.57" cy="185.8" r="1.35"/><circle cx="532.57" cy="181.35" r="1.35"/><circle cx="532.57" cy="176.9" r="1.35"/><circle cx="532.57" cy="159.1" r="1.35"/><circle cx="532.57" cy="145.75" r="1.35"/><circle cx="532.57" cy="136.85" r="1.35"/><circle cx="532.57" cy="123.5" r="1.35"/><circle cx="532.57" cy="110.15" r="1.35"/><circle cx="532.57" cy="101.25" r="1.35"/><circle cx="532.57" cy="87.9" r="1.35"/><circle cx="532.57" cy="79" r="1.35"/><circle cx="532.57" cy="74.55" r="1.35"/><circle cx="538.13" cy="370.03" r="1.35"/><circle cx="538.13" cy="350.45" r="1.35"/><circle cx="538.13" cy="328.2" r="1.35"/><circle cx="538.13" cy="310.4" r="1.35"/><circle cx="538.13" cy="292.6" r="1.35"/><circle cx="538.13" cy="265.9" r="1.35"/><circle cx="538.13" cy="243.65" r="1.35"/><circle cx="538.13" cy="230.3" r="1.35"/><circle cx="538.13" cy="216.95" r="1.35"/><circle cx="538.13" cy="203.6" r="1.35"/><circle cx="538.13" cy="185.8" r="1.35"/><circle cx="538.13" cy="181.35" r="1.35"/><circle cx="538.13" cy="176.9" r="1.35"/><circle cx="538.13" cy="159.1" r="1.35"/><circle cx="538.13" cy="145.75" r="1.35"/><circle cx="538.13" cy="136.85" r="1.35"/><circle cx="538.13" cy="123.5" r="1.35"/><circle cx="538.13" cy="110.15" r="1.35"/><circle cx="538.13" cy="101.25" r="1.35"/><circle cx="538.13" cy="87.9" r="1.35"/><circle cx="538.13" cy="79" r="1.35"/><circle cx="538.13" cy="74.55" r="1.35"/><circle cx="543.7" cy="381.6" r="1.35"/><circle cx="543.7" cy="363.8" r="1.35"/><circle cx="543.7" cy="346" r="1.35"/><circle cx="543.7" cy="328.2" r="1.35"/><circle cx="543.7" cy="310.4" r="1.35"/><circle cx="543.7" cy="288.15" r="1.35"/><circle cx="543.7" cy="270.35" r="1.35"/><circle cx="543.7" cy="257" r="1.35"/><circle cx="543.7" cy="243.65" r="1.35"/><circle cx="543.7" cy="230.3" r="1.35"/><circle cx="543.7" cy="216.95" r="1.35"/><circle cx="543.7" cy="203.6" r="1.35"/><circle cx="543.7" cy="190.25" r="1.35"/><circle cx="543.7" cy="172.45" r="1.35"/><circle cx="543.7" cy="159.1" r="1.35"/><circle cx="543.7" cy="145.75" r="1.35"/><circle cx="543.7" cy="132.4" r="1.35"/><circle cx="543.7" cy="119.05" r="1.35"/><circle cx="543.7" cy="105.7" r="1.35"/><circle cx="543.7" cy="92.35" r="1.35"/><circle cx="543.7" cy="83.45" r="1.35"/><circle cx="543.7" cy="79" r="1.35"/><circle cx="549.26" cy="381.6" r="1.35"/><circle cx="549.26" cy="363.8" r="1.35"/><circle cx="549.26" cy="346" r="1.35"/><circle cx="549.26" cy="328.2" r="1.35"/><circle cx="549.26" cy="310.4" r="1.35"/><circle cx="549.26" cy="288.15" r="1.35"/><circle cx="549.26" cy="270.35" r="1.35"/><circle cx="549.26" cy="257" r="1.35"/><circle cx="549.26" cy="243.65" r="1.35"/><circle cx="549.26" cy="230.3" r="1.35"/><circle cx="549.26" cy="216.95" r="1.35"/><circle cx="549.26" cy="203.6" r="1.35"/><circle cx="549.26" cy="190.25" r="1.35"/><circle cx="549.26" cy="172.45" r="1.35"/><circle cx="549.26" cy="159.1" r="1.35"/><circle cx="549.26" cy="145.75" r="1.35"/><circle cx="549.26" cy="132.4" r="1.35"/><circle cx="549.26" cy="119.05" r="1.35"/><circle cx="549.26" cy="105.7" r="1.35"/><circle cx="549.26" cy="92.35" r="1.35"/><circle cx="549.26" cy="83.45" r="1.35"/><circle cx="549.26" cy="79" r="1.35"/><circle cx="554.82" cy="381.6" r="1.35"/><circle cx="554.82" cy="363.8" r="1.35"/><circle cx="554.82" cy="346" r="1.35"/><circle cx="554.82" cy="328.2" r="1.35"/><circle cx="554.82" cy="310.4" r="1.35"/><circle cx="554.82" cy="288.15" r="1.35"/><circle cx="554.82" cy="270.35" r="1.35"/><circle cx="554.82" cy="257" r="1.35"/><circle cx="554.82" cy="243.65" r="1.35"/><circle cx="554.82" cy="230.3" r="1.35"/><circle cx="554.82" cy="216.95" r="1.35"/><circle cx="554.82" cy="203.6" r="1.35"/><circle cx="554.82" cy="190.25" r="1.35"/><circle cx="554.82" cy="172.45" r="1.35"/><circle cx="554.82" cy="159.1" r="1.35"/><circle cx="554.82" cy="145.75" r="1.35"/><circle cx="554.82" cy="132.4" r="1.35"/><circle cx="554.82" cy="119.05" r="1.35"/><circle cx="554.82" cy="105.7" r="1.35"/><circle cx="554.82" cy="92.35" r="1.35"/><circle cx="554.82" cy="83.45" r="1.35"/><circle cx="554.82" cy="79" r="1.35"/><circle cx="560.38" cy="381.6" r="1.35"/><circle cx="560.38" cy="363.8" r="1.35"/><circle cx="560.38" cy="346" r="1.35"/><circle cx="560.38" cy="328.2" r="1.35"/><circle cx="560.38" cy="310.4" r="1.35"/><circle cx="560.38" cy="288.15" r="1.35"/><circle cx="560.38" cy="270.35" r="1.35"/><circle cx="560.38" cy="257" r="1.35"/><circle cx="560.38" cy="243.65" r="1.35"/><circle cx="560.38" cy="230.3" r="1.35"/><circle cx="560.38" cy="216.95" r="1.35"/><circle cx="560.38" cy="203.6" r="1.35"/><circle cx="560.38" cy="190.25" r="1.35"/><circle cx="560.38" cy="172.45" r="1.35"/><circle cx="560.38" cy="159.1" r="1.35"/><circle cx="560.38" cy="145.75" r="1.35"/><circle cx="560.38" cy="132.4" r="1.35"/><circle cx="560.38" cy="119.05" r="1.35"/><circle cx="560.38" cy="105.7" r="1.35"/><circle cx="560.38" cy="92.35" r="1.35"/><circle cx="560.38" cy="83.45" r="1.35"/><circle cx="560.38" cy="79" r="1.35"/><circle cx="565.95" cy="381.6" r="1.35"/><circle cx="565.95" cy="363.8" r="1.35"/><circle cx="565.95" cy="346" r="1.35"/><circle cx="565.95" cy="328.2" r="1.35"/><circle cx="565.95" cy="310.4" r="1.35"/><circle cx="565.95" cy="288.15" r="1.35"/><circle cx="565.95" cy="270.35" r="1.35"/><circle cx="565.95" cy="257" r="1.35"/><circle cx="565.95" cy="243.65" r="1.35"/><circle cx="565.95" cy="230.3" r="1.35"/><circle cx="565.95" cy="216.95" r="1.35"/><circle cx="565.95" cy="203.6" r="1.35"/><circle cx="565.95" cy="190.25" r="1.35"/><circle cx="565.95" cy="172.45" r="1.35"/><circle cx="565.95" cy="159.1" r="1.35"/><circle cx="565.95" cy="145.75" r="1.35"/><circle cx="565.95" cy="132.4" r="1.35"/><circle cx="565.95" cy="119.05" r="1.35"/><circle cx="565.95" cy="105.7" r="1.35"/><circle cx="565.95" cy="92.35" r="1.35"/><circle cx="565.95" cy="83.45" r="1.35"/><circle cx="565.95" cy="79" r="1.35"/><circle cx="571.51" cy="381.6" r="1.35"/><circle cx="571.51" cy="363.8" r="1.35"/><circle cx="571.51" cy="346" r="1.35"/><circle cx="571.51" cy="328.2" r="1.35"/><circle cx="571.51" cy="310.4" r="1.35"/><circle cx="571.51" cy="288.15" r="1.35"/><circle cx="571.51" cy="270.35" r="1.35"/><circle cx="571.51" cy="257" r="1.35"/><circle cx="571.51" cy="243.65" r="1.35"/><circle cx="571.51" cy="230.3" r="1.35"/><circle cx="571.51" cy="216.95" r="1.35"/><circle cx="571.51" cy="203.6" r="1.35"/><circle cx="571.51" cy="190.25" r="1.35"/><circle cx="571.51" cy="172.45" r="1.35"/><circle cx="571.51" cy="159.1" r="1.35"/><circle cx="571.51" cy="145.75" r="1.35"/><circle cx="571.51" cy="132.4" r="1.35"/><circle cx="571.51" cy="119.05" r="1.35"/><circle cx="571.51" cy="105.7" r="1.35"/><circle cx="571.51" cy="92.35" r="1.35"/><circle cx="571.51" cy="83.45" r="1.35"/><circle cx="571.51" cy="79" r="1.35"/><circle cx="577.07" cy="381.6" r="1.35"/><circle cx="577.07" cy="363.8" r="1.35"/><circle cx="577.07" cy="346" r="1.35"/><circle cx="577.07" cy="328.2" r="1.35"/><circle cx="577.07" cy="310.4" r="1.35"/><circle cx="577.07" cy="288.15" r="1.35"/><circle cx="577.07" cy="270.35" r="1.35"/><circle cx="577.07" cy="257" r="1.35"/><circle cx="577.07" cy="243.65" r="1.35"/><circle cx="577.07" cy="230.3" r="1.35"/><circle cx="577.07" cy="216.95" r="1.35"/><circle cx="577.07" cy="203.6" r="1.35"/><circle cx="577.07" cy="190.25" r="1.35"/><circle cx="577.07" cy="172.45" r="1.35"/><circle cx="577.07" cy="159.1" r="1.35"/><circle cx="577.07" cy="145.75" r="1.35"/><circle cx="577.07" cy="132.4" r="1.35"/><circle cx="577.07" cy="119.05" r="1.35"/><circle cx="577.07" cy="105.7" r="1.35"/><circle cx="577.07" cy="92.35" r="1.35"/><circle cx="577.07" cy="83.45" r="1.35"/><circle cx="577.07" cy="79" r="1.35"/><circle cx="582.64" cy="381.6" r="1.35"/><circle cx="582.64" cy="363.8" r="1.35"/><circle cx="582.64" cy="346" r="1.35"/><circle cx="582.64" cy="328.2" r="1.35"/><circle cx="582.64" cy="310.4" r="1.35"/><circle cx="582.64" cy="288.15" r="1.35"/><circle cx="582.64" cy="270.35" r="1.35"/><circle cx="582.64" cy="257" r="1.35"/><circle cx="582.64" cy="243.65" r="1.35"/><circle cx="582.64" cy="230.3" r="1.35"/><circle cx="582.64" cy="216.95" r="1.35"/><circle cx="582.64" cy="203.6" r="1.35"/><circle cx="582.64" cy="190.25" r="1.35"/><circle cx="582.64" cy="172.45" r="1.35"/><circle cx="582.64" cy="159.1" r="1.35"/><circle cx="582.64" cy="145.75" r="1.35"/><circle cx="582.64" cy="132.4" r="1.35"/><circle cx="582.64" cy="119.05" r="1.35"/><circle cx="582.64" cy="105.7" r="1.35"/><circle cx="582.64" cy="92.35" r="1.35"/><circle cx="582.64" cy="83.45" r="1.35"/><circle cx="582.64" cy="79" r="1.35"/><circle cx="588.2" cy="381.6" r="1.35"/><circle cx="588.2" cy="363.8" r="1.35"/><circle cx="588.2" cy="346" r="1.35"/><circle cx="588.2" cy="328.2" r="1.35"/><circle cx="588.2" cy="310.4" r="1.35"/><circle cx="588.2" cy="288.15" r="1.35"/><circle cx="588.2" cy="270.35" r="1.35"/><circle cx="588.2" cy="257" r="1.35"/><circle cx="588.2" cy="243.65" r="1.35"/><circle cx="588.2" cy="230.3" r="1.35"/><circle cx="588.2" cy="216.95" r="1.35"/><circle cx="588.2" cy="203.6" r="1.35"/><circle cx="588.2" cy="190.25" r="1.35"/><circle cx="588.2" cy="172.45" r="1.35"/><circle cx="588.2" cy="159.1" r="1.35"/><circle cx="588.2" cy="145.75" r="1.35"/><circle cx="588.2" cy="132.4" r="1.35"/><circle cx="588.2" cy="119.05" r="1.35"/><circle cx="588.2" cy="105.7" r="1.35"/><circle cx="588.2" cy="92.35" r="1.35"/><circle cx="588.2" cy="83.45" r="1.35"/><circle cx="588.2" cy="79" r="1.35"/><circle cx="593.76" cy="381.6" r="1.35"/><circle cx="593.76" cy="363.8" r="1.35"/><circle cx="593.76" cy="346" r="1.35"/><circle cx="593.76" cy="328.2" r="1.35"/><circle cx="593.76" cy="310.4" r="1.35"/><circle cx="593.76" cy="288.15" r="1.35"/><circle cx="593.76" cy="270.35" r="1.35"/><circle cx="593.76" cy="257" r="1.35"/><circle cx="593.76" cy="243.65" r="1.35"/><circle cx="593.76" cy="230.3" r="1.35"/><circle cx="593.76" cy="216.95" r="1.35"/><circle cx="593.76" cy="203.6" r="1.35"/><circle cx="593.76" cy="190.25" r="1.35"/><circle cx="593.76" cy="172.45" r="1.35"/><circle cx="593.76" cy="159.1" r="1.35"/><circle cx="593.76" cy="145.75" r="1.35"/><circle cx="593.76" cy="132.4" r="1.35"/><circle cx="593.76" cy="119.05" r="1.35"/><circle cx="593.76" cy="105.7" r="1.35"/><circle cx="593.76" cy="92.35" r="1.35"/><circle cx="593.76" cy="83.45" r="1.35"/><circle cx="593.76" cy="79" r="1.35"/><circle cx="599.33" cy="406.07" r="1.35"/><circle cx="599.33" cy="401.62" r="1.35"/><circle cx="599.33" cy="399.4" r="1.35"/><circle cx="599.33" cy="390.5" r="1.35"/><circle cx="599.33" cy="374.93" r="1.35"/><circle cx="599.33" cy="359.35" r="1.35"/><circle cx="599.33" cy="343.77" r="1.35"/><circle cx="599.33" cy="328.2" r="1.35"/><circle cx="599.33" cy="312.62" r="1.35"/><circle cx="599.33" cy="297.05" r="1.35"/><circle cx="599.33" cy="281.48" r="1.35"/><circle cx="599.33" cy="268.12" r="1.35"/><circle cx="599.33" cy="254.77" r="1.35"/><circle cx="599.33" cy="241.42" r="1.35"/><circle cx="599.33" cy="230.3" r="1.35"/><circle cx="599.33" cy="219.18" r="1.35"/><circle cx="599.33" cy="208.05" r="1.35"/><circle cx="599.33" cy="196.93" r="1.35"/><circle cx="599.33" cy="185.8" r="1.35"/><circle cx="599.33" cy="174.68" r="1.35"/><circle cx="599.33" cy="163.55" r="1.35"/><circle cx="599.33" cy="152.43" r="1.35"/><circle cx="599.33" cy="145.75" r="1.35"/><circle cx="599.33" cy="139.07" r="1.35"/><circle cx="604.89" cy="412.75" r="1.35"/><circle cx="604.89" cy="408.3" r="1.35"/><circle cx="604.89" cy="403.85" r="1.35"/><circle cx="604.89" cy="394.95" r="1.35"/><circle cx="604.89" cy="381.6" r="1.35"/><circle cx="604.89" cy="368.25" r="1.35"/><circle cx="604.89" cy="354.9" r="1.35"/><circle cx="604.89" cy="337.1" r="1.35"/><circle cx="604.89" cy="319.3" r="1.35"/><circle cx="604.89" cy="305.95" r="1.35"/><circle cx="604.89" cy="292.6" r="1.35"/><circle cx="604.89" cy="279.25" r="1.35"/><circle cx="604.89" cy="265.9" r="1.35"/><circle cx="604.89" cy="257" r="1.35"/><circle cx="604.89" cy="243.65" r="1.35"/><circle cx="604.89" cy="234.75" r="1.35"/><circle cx="604.89" cy="221.4" r="1.35"/><circle cx="604.89" cy="212.5" r="1.35"/><circle cx="604.89" cy="203.6" r="1.35"/><circle cx="604.89" cy="194.7" r="1.35"/><circle cx="604.89" cy="185.8" r="1.35"/><circle cx="604.89" cy="176.9" r="1.35"/><circle cx="604.89" cy="172.45" r="1.35"/><circle cx="610.45" cy="412.75" r="1.35"/><circle cx="610.45" cy="408.3" r="1.35"/><circle cx="610.45" cy="403.85" r="1.35"/><circle cx="610.45" cy="394.95" r="1.35"/><circle cx="610.45" cy="381.6" r="1.35"/><circle cx="610.45" cy="368.25" r="1.35"/><circle cx="610.45" cy="354.9" r="1.35"/><circle cx="610.45" cy="337.1" r="1.35"/><circle cx="610.45" cy="319.3" r="1.35"/><circle cx="610.45" cy="305.95" r="1.35"/><circle cx="610.45" cy="292.6" r="1.35"/><circle cx="610.45" cy="279.25" r="1.35"/><circle cx="610.45" cy="265.9" r="1.35"/><circle cx="610.45" cy="257" r="1.35"/><circle cx="610.45" cy="243.65" r="1.35"/><circle cx="610.45" cy="234.75" r="1.35"/><circle cx="610.45" cy="221.4" r="1.35"/><circle cx="610.45" cy="212.5" r="1.35"/><circle cx="610.45" cy="203.6" r="1.35"/><circle cx="610.45" cy="194.7" r="1.35"/><circle cx="610.45" cy="185.8" r="1.35"/><circle cx="610.45" cy="176.9" r="1.35"/><circle cx="610.45" cy="172.45" r="1.35"/><circle cx="616.01" cy="412.75" r="1.35"/><circle cx="616.01" cy="408.3" r="1.35"/><circle cx="616.01" cy="403.85" r="1.35"/><circle cx="616.01" cy="394.95" r="1.35"/><circle cx="616.01" cy="381.6" r="1.35"/><circle cx="616.01" cy="368.25" r="1.35"/><circle cx="616.01" cy="354.9" r="1.35"/><circle cx="616.01" cy="337.1" r="1.35"/><circle cx="616.01" cy="319.3" r="1.35"/><circle cx="616.01" cy="305.95" r="1.35"/><circle cx="616.01" cy="292.6" r="1.35"/><circle cx="616.01" cy="279.25" r="1.35"/><circle cx="616.01" cy="265.9" r="1.35"/><circle cx="616.01" cy="257" r="1.35"/><circle cx="616.01" cy="243.65" r="1.35"/><circle cx="616.01" cy="234.75" r="1.35"/><circle cx="616.01" cy="221.4" r="1.35"/><circle cx="616.01" cy="212.5" r="1.35"/><circle cx="616.01" cy="203.6" r="1.35"/><circle cx="616.01" cy="194.7" r="1.35"/><circle cx="616.01" cy="185.8" r="1.35"/><circle cx="616.01" cy="176.9" r="1.35"/><circle cx="616.01" cy="172.45" r="1.35"/><circle cx="621.58" cy="412.75" r="1.35"/><circle cx="621.58" cy="408.3" r="1.35"/><circle cx="621.58" cy="403.85" r="1.35"/><circle cx="621.58" cy="394.95" r="1.35"/><circle cx="621.58" cy="381.6" r="1.35"/><circle cx="621.58" cy="368.25" r="1.35"/><circle cx="621.58" cy="354.9" r="1.35"/><circle cx="621.58" cy="337.1" r="1.35"/><circle cx="621.58" cy="319.3" r="1.35"/><circle cx="621.58" cy="305.95" r="1.35"/><circle cx="621.58" cy="292.6" r="1.35"/><circle cx="621.58" cy="279.25" r="1.35"/><circle cx="621.58" cy="265.9" r="1.35"/><circle cx="621.58" cy="257" r="1.35"/><circle cx="621.58" cy="243.65" r="1.35"/><circle cx="621.58" cy="234.75" r="1.35"/><circle cx="621.58" cy="221.4" r="1.35"/><circle cx="621.58" cy="212.5" r="1.35"/><circle cx="621.58" cy="203.6" r="1.35"/><circle cx="621.58" cy="194.7" r="1.35"/><circle cx="621.58" cy="185.8" r="1.35"/><circle cx="621.58" cy="176.9" r="1.35"/><circle cx="621.58" cy="172.45" r="1.35"/><circle cx="627.14" cy="412.75" r="1.35"/><circle cx="627.14" cy="408.3" r="1.35"/><circle cx="627.14" cy="403.85" r="1.35"/><circle cx="627.14" cy="394.95" r="1.35"/><circle cx="627.14" cy="381.6" r="1.35"/><circle cx="627.14" cy="368.25" r="1.35"/><circle cx="627.14" cy="354.9" r="1.35"/><circle cx="627.14" cy="337.1" r="1.35"/><circle cx="627.14" cy="319.3" r="1.35"/><circle cx="627.14" cy="305.95" r="1.35"/><circle cx="627.14" cy="292.6" r="1.35"/><circle cx="627.14" cy="279.25" r="1.35"/><circle cx="627.14" cy="265.9" r="1.35"/><circle cx="627.14" cy="257" r="1.35"/><circle cx="627.14" cy="243.65" r="1.35"/><circle cx="627.14" cy="234.75" r="1.35"/><circle cx="627.14" cy="221.4" r="1.35"/><circle cx="627.14" cy="212.5" r="1.35"/><circle cx="627.14" cy="203.6" r="1.35"/><circle cx="627.14" cy="194.7" r="1.35"/><circle cx="627.14" cy="185.8" r="1.35"/><circle cx="627.14" cy="176.9" r="1.35"/><circle cx="627.14" cy="172.45" r="1.35"/><circle cx="632.7" cy="412.75" r="1.35"/><circle cx="632.7" cy="408.3" r="1.35"/><circle cx="632.7" cy="403.85" r="1.35"/><circle cx="632.7" cy="394.95" r="1.35"/><circle cx="632.7" cy="381.6" r="1.35"/><circle cx="632.7" cy="368.25" r="1.35"/><circle cx="632.7" cy="354.9" r="1.35"/><circle cx="632.7" cy="337.1" r="1.35"/><circle cx="632.7" cy="319.3" r="1.35"/><circle cx="632.7" cy="305.95" r="1.35"/><circle cx="632.7" cy="292.6" r="1.35"/><circle cx="632.7" cy="279.25" r="1.35"/><circle cx="632.7" cy="265.9" r="1.35"/><circle cx="632.7" cy="257" r="1.35"/><circle cx="632.7" cy="243.65" r="1.35"/><circle cx="632.7" cy="234.75" r="1.35"/><circle cx="632.7" cy="221.4" r="1.35"/><circle cx="632.7" cy="212.5" r="1.35"/><circle cx="632.7" cy="203.6" r="1.35"/><circle cx="632.7" cy="194.7" r="1.35"/><circle cx="632.7" cy="185.8" r="1.35"/><circle cx="632.7" cy="176.9" r="1.35"/><circle cx="632.7" cy="172.45" r="1.35"/><circle cx="638.27" cy="412.75" r="1.35"/><circle cx="638.27" cy="408.3" r="1.35"/><circle cx="638.27" cy="403.85" r="1.35"/><circle cx="638.27" cy="394.95" r="1.35"/><circle cx="638.27" cy="381.6" r="1.35"/><circle cx="638.27" cy="368.25" r="1.35"/><circle cx="638.27" cy="354.9" r="1.35"/><circle cx="638.27" cy="337.1" r="1.35"/><circle cx="638.27" cy="319.3" r="1.35"/><circle cx="638.27" cy="305.95" r="1.35"/><circle cx="638.27" cy="292.6" r="1.35"/><circle cx="638.27" cy="279.25" r="1.35"/><circle cx="638.27" cy="265.9" r="1.35"/><circle cx="638.27" cy="257" r="1.35"/><circle cx="638.27" cy="243.65" r="1.35"/><circle cx="638.27" cy="234.75" r="1.35"/><circle cx="638.27" cy="221.4" r="1.35"/><circle cx="638.27" cy="212.5" r="1.35"/><circle cx="638.27" cy="203.6" r="1.35"/><circle cx="638.27" cy="194.7" r="1.35"/><circle cx="638.27" cy="185.8" r="1.35"/><circle cx="638.27" cy="176.9" r="1.35"/><circle cx="638.27" cy="172.45" r="1.35"/><circle cx="643.83" cy="412.75" r="1.35"/><circle cx="643.83" cy="408.3" r="1.35"/><circle cx="643.83" cy="403.85" r="1.35"/><circle cx="643.83" cy="394.95" r="1.35"/><circle cx="643.83" cy="381.6" r="1.35"/><circle cx="643.83" cy="368.25" r="1.35"/><circle cx="643.83" cy="354.9" r="1.35"/><circle cx="643.83" cy="337.1" r="1.35"/><circle cx="643.83" cy="319.3" r="1.35"/><circle cx="643.83" cy="305.95" r="1.35"/><circle cx="643.83" cy="292.6" r="1.35"/><circle cx="643.83" cy="279.25" r="1.35"/><circle cx="643.83" cy="265.9" r="1.35"/><circle cx="643.83" cy="257" r="1.35"/><circle cx="643.83" cy="243.65" r="1.35"/><circle cx="643.83" cy="234.75" r="1.35"/><circle cx="643.83" cy="221.4" r="1.35"/><circle cx="643.83" cy="212.5" r="1.35"/><circle cx="643.83" cy="203.6" r="1.35"/><circle cx="643.83" cy="194.7" r="1.35"/><circle cx="643.83" cy="185.8" r="1.35"/><circle cx="643.83" cy="176.9" r="1.35"/><circle cx="643.83" cy="172.45" r="1.35"/><circle cx="649.39" cy="412.75" r="1.35"/><circle cx="649.39" cy="408.3" r="1.35"/><circle cx="649.39" cy="403.85" r="1.35"/><circle cx="649.39" cy="394.95" r="1.35"/><circle cx="649.39" cy="381.6" r="1.35"/><circle cx="649.39" cy="368.25" r="1.35"/><circle cx="649.39" cy="354.9" r="1.35"/><circle cx="649.39" cy="337.1" r="1.35"/><circle cx="649.39" cy="319.3" r="1.35"/><circle cx="649.39" cy="305.95" r="1.35"/><circle cx="649.39" cy="292.6" r="1.35"/><circle cx="649.39" cy="279.25" r="1.35"/><circle cx="649.39" cy="265.9" r="1.35"/><circle cx="649.39" cy="257" r="1.35"/><circle cx="649.39" cy="243.65" r="1.35"/><circle cx="649.39" cy="234.75" r="1.35"/><circle cx="649.39" cy="221.4" r="1.35"/><circle cx="649.39" cy="212.5" r="1.35"/><circle cx="649.39" cy="203.6" r="1.35"/><circle cx="649.39" cy="194.7" r="1.35"/><circle cx="649.39" cy="185.8" r="1.35"/><circle cx="649.39" cy="176.9" r="1.35"/><circle cx="649.39" cy="172.45" r="1.35"/><circle cx="654.96" cy="412.75" r="1.35"/><circle cx="654.96" cy="408.3" r="1.35"/><circle cx="654.96" cy="403.85" r="1.35"/><circle cx="654.96" cy="394.95" r="1.35"/><circle cx="654.96" cy="381.6" r="1.35"/><circle cx="654.96" cy="368.25" r="1.35"/><circle cx="654.96" cy="354.9" r="1.35"/><circle cx="654.96" cy="337.1" r="1.35"/><circle cx="654.96" cy="319.3" r="1.35"/><circle cx="654.96" cy="305.95" r="1.35"/><circle cx="654.96" cy="292.6" r="1.35"/><circle cx="654.96" cy="279.25" r="1.35"/><circle cx="654.96" cy="265.9" r="1.35"/><circle cx="654.96" cy="257" r="1.35"/><circle cx="654.96" cy="243.65" r="1.35"/><circle cx="654.96" cy="234.75" r="1.35"/><circle cx="654.96" cy="221.4" r="1.35"/><circle cx="654.96" cy="212.5" r="1.35"/><circle cx="654.96" cy="203.6" r="1.35"/><circle cx="654.96" cy="194.7" r="1.35"/><circle cx="654.96" cy="185.8" r="1.35"/><circle cx="654.96" cy="176.9" r="1.35"/><circle cx="654.96" cy="172.45" r="1.35"/><circle cx="660.52" cy="412.75" r="1.35"/><circle cx="660.52" cy="408.3" r="1.35"/><circle cx="660.52" cy="403.85" r="1.35"/><circle cx="660.52" cy="394.95" r="1.35"/><circle cx="660.52" cy="381.6" r="1.35"/><circle cx="660.52" cy="368.25" r="1.35"/><circle cx="660.52" cy="354.9" r="1.35"/><circle cx="660.52" cy="337.1" r="1.35"/><circle cx="660.52" cy="319.3" r="1.35"/><circle cx="660.52" cy="305.95" r="1.35"/><circle cx="660.52" cy="292.6" r="1.35"/><circle cx="660.52" cy="279.25" r="1.35"/><circle cx="660.52" cy="265.9" r="1.35"/><circle cx="660.52" cy="257" r="1.35"/><circle cx="660.52" cy="243.65" r="1.35"/><circle cx="660.52" cy="234.75" r="1.35"/><circle cx="660.52" cy="221.4" r="1.35"/><circle cx="660.52" cy="212.5" r="1.35"/><circle cx="660.52" cy="203.6" r="1.35"/><circle cx="660.52" cy="194.7" r="1.35"/><circle cx="660.52" cy="185.8" r="1.35"/><circle cx="660.52" cy="176.9" r="1.35"/><circle cx="660.52" cy="172.45" r="1.35"/><circle cx="666.08" cy="412.75" r="1.35"/><circle cx="666.08" cy="408.3" r="1.35"/><circle cx="666.08" cy="403.85" r="1.35"/><circle cx="666.08" cy="394.95" r="1.35"/><circle cx="666.08" cy="381.6" r="1.35"/><circle cx="666.08" cy="368.25" r="1.35"/><circle cx="666.08" cy="354.9" r="1.35"/><circle cx="666.08" cy="337.1" r="1.35"/><circle cx="666.08" cy="319.3" r="1.35"/><circle cx="666.08" cy="305.95" r="1.35"/><circle cx="666.08" cy="292.6" r="1.35"/><circle cx="666.08" cy="279.25" r="1.35"/><circle cx="666.08" cy="265.9" r="1.35"/><circle cx="666.08" cy="257" r="1.35"/><circle cx="666.08" cy="243.65" r="1.35"/><circle cx="666.08" cy="234.75" r="1.35"/><circle cx="666.08" cy="221.4" r="1.35"/><circle cx="666.08" cy="212.5" r="1.35"/><circle cx="666.08" cy="203.6" r="1.35"/><circle cx="666.08" cy="194.7" r="1.35"/><circle cx="666.08" cy="185.8" r="1.35"/><circle cx="666.08" cy="176.9" r="1.35"/><circle cx="666.08" cy="172.45" r="1.35"/><circle cx="671.64" cy="417.2" r="1.35"/><circle cx="671.64" cy="412.75" r="1.35"/><circle cx="671.64" cy="408.3" r="1.35"/><circle cx="671.64" cy="403.85" r="1.35"/><circle cx="671.64" cy="394.95" r="1.35"/><circle cx="671.64" cy="381.6" r="1.35"/><circle cx="671.64" cy="368.25" r="1.35"/><circle cx="671.64" cy="354.9" r="1.35"/><circle cx="671.64" cy="337.1" r="1.35"/><circle cx="671.64" cy="319.3" r="1.35"/><circle cx="671.64" cy="305.95" r="1.35"/><circle cx="671.64" cy="292.6" r="1.35"/><circle cx="671.64" cy="279.25" r="1.35"/><circle cx="671.64" cy="265.9" r="1.35"/><circle cx="671.64" cy="257" r="1.35"/><circle cx="671.64" cy="243.65" r="1.35"/><circle cx="671.64" cy="234.75" r="1.35"/><circle cx="671.64" cy="221.4" r="1.35"/><circle cx="671.64" cy="212.5" r="1.35"/><circle cx="671.64" cy="203.6" r="1.35"/><circle cx="671.64" cy="194.7" r="1.35"/><circle cx="671.64" cy="185.8" r="1.35"/><circle cx="671.64" cy="176.9" r="1.35"/><circle cx="671.64" cy="172.45" r="1.35"/><circle cx="677.21" cy="417.2" r="1.35"/><circle cx="677.21" cy="412.75" r="1.35"/><circle cx="677.21" cy="408.3" r="1.35"/><circle cx="677.21" cy="403.85" r="1.35"/><circle cx="677.21" cy="394.95" r="1.35"/><circle cx="677.21" cy="381.6" r="1.35"/><circle cx="677.21" cy="368.25" r="1.35"/><circle cx="677.21" cy="354.9" r="1.35"/><circle cx="677.21" cy="337.1" r="1.35"/><circle cx="677.21" cy="319.3" r="1.35"/><circle cx="677.21" cy="292.6" r="1.35"/><circle cx="677.21" cy="279.25" r="1.35"/><circle cx="677.21" cy="265.9" r="1.35"/><circle cx="677.21" cy="261.45" r="1.35"/><circle cx="677.21" cy="257" r="1.35"/><circle cx="677.21" cy="243.65" r="1.35"/><circle cx="677.21" cy="234.75" r="1.35"/><circle cx="677.21" cy="221.4" r="1.35"/><circle cx="677.21" cy="212.5" r="1.35"/><circle cx="677.21" cy="203.6" r="1.35"/><circle cx="677.21" cy="194.7" r="1.35"/><circle cx="677.21" cy="185.8" r="1.35"/><circle cx="677.21" cy="176.9" r="1.35"/><circle cx="677.21" cy="172.45" r="1.35"/><circle cx="682.77" cy="417.2" r="1.35"/><circle cx="682.77" cy="408.3" r="1.35"/><circle cx="682.77" cy="399.4" r="1.35"/><circle cx="682.77" cy="386.05" r="1.35"/><circle cx="682.77" cy="372.7" r="1.35"/><circle cx="682.77" cy="354.9" r="1.35"/><circle cx="682.77" cy="337.1" r="1.35"/><circle cx="682.77" cy="314.85" r="1.35"/><circle cx="682.77" cy="288.15" r="1.35"/><circle cx="682.77" cy="261.45" r="1.35"/><circle cx="682.77" cy="239.2" r="1.35"/><circle cx="682.77" cy="216.95" r="1.35"/><circle cx="682.77" cy="194.7" r="1.35"/><circle cx="682.77" cy="176.9" r="1.35"/><circle cx="688.33" cy="417.2" r="1.35"/><circle cx="688.33" cy="408.3" r="1.35"/><circle cx="688.33" cy="399.4" r="1.35"/><circle cx="688.33" cy="386.05" r="1.35"/><circle cx="688.33" cy="372.7" r="1.35"/><circle cx="688.33" cy="354.9" r="1.35"/><circle cx="688.33" cy="337.1" r="1.35"/><circle cx="688.33" cy="314.85" r="1.35"/><circle cx="688.33" cy="288.15" r="1.35"/><circle cx="688.33" cy="261.45" r="1.35"/><circle cx="688.33" cy="239.2" r="1.35"/><circle cx="688.33" cy="216.95" r="1.35"/><circle cx="688.33" cy="194.7" r="1.35"/><circle cx="688.33" cy="176.9" r="1.35"/><circle cx="693.9" cy="417.2" r="1.35"/><circle cx="693.9" cy="408.3" r="1.35"/><circle cx="693.9" cy="399.4" r="1.35"/><circle cx="693.9" cy="386.05" r="1.35"/><circle cx="693.9" cy="372.7" r="1.35"/><circle cx="693.9" cy="354.9" r="1.35"/><circle cx="693.9" cy="337.1" r="1.35"/><circle cx="693.9" cy="314.85" r="1.35"/><circle cx="693.9" cy="288.15" r="1.35"/><circle cx="693.9" cy="261.45" r="1.35"/><circle cx="693.9" cy="239.2" r="1.35"/><circle cx="693.9" cy="216.95" r="1.35"/><circle cx="693.9" cy="194.7" r="1.35"/><circle cx="693.9" cy="176.9" r="1.35"/><circle cx="699.46" cy="426.1" r="1.35"/><circle cx="699.46" cy="417.2" r="1.35"/><circle cx="699.46" cy="408.3" r="1.35"/><circle cx="699.46" cy="394.95" r="1.35"/><circle cx="699.46" cy="381.6" r="1.35"/><circle cx="699.46" cy="368.25" r="1.35"/><circle cx="699.46" cy="350.45" r="1.35"/><circle cx="699.46" cy="332.65" r="1.35"/><circle cx="699.46" cy="305.95" r="1.35"/><circle cx="699.46" cy="283.7" r="1.35"/><circle cx="699.46" cy="261.45" r="1.35"/><circle cx="705.02" cy="430.55" r="1.35"/><circle cx="705.02" cy="421.65" r="1.35"/><circle cx="705.02" cy="412.75" r="1.35"/><circle cx="705.02" cy="403.85" r="1.35"/><circle cx="705.02" cy="394.95" r="1.35"/><circle cx="705.02" cy="377.15" r="1.35"/><circle cx="705.02" cy="363.8" r="1.35"/><circle cx="705.02" cy="346" r="1.35"/><circle cx="705.02" cy="323.75" r="1.35"/><circle cx="705.02" cy="301.5" r="1.35"/><circle cx="705.02" cy="283.7" r="1.35"/><circle cx="705.02" cy="265.9" r="1.35"/><circle cx="710.59" cy="430.55" r="1.35"/><circle cx="710.59" cy="426.1" r="1.35"/><circle cx="710.59" cy="417.2" r="1.35"/><circle cx="710.59" cy="408.3" r="1.35"/><circle cx="710.59" cy="399.4" r="1.35"/><circle cx="710.59" cy="381.6" r="1.35"/><circle cx="710.59" cy="368.25" r="1.35"/><circle cx="710.59" cy="354.9" r="1.35"/><circle cx="710.59" cy="332.65" r="1.35"/><circle cx="710.59" cy="310.4" r="1.35"/><circle cx="710.59" cy="292.6" r="1.35"/><circle cx="710.59" cy="279.25" r="1.35"/><circle cx="710.59" cy="261.45" r="1.35"/><circle cx="716.15" cy="430.55" r="1.35"/><circle cx="716.15" cy="426.1" r="1.35"/><circle cx="716.15" cy="417.2" r="1.35"/><circle cx="716.15" cy="408.3" r="1.35"/><circle cx="716.15" cy="399.4" r="1.35"/><circle cx="716.15" cy="381.6" r="1.35"/><circle cx="716.15" cy="368.25" r="1.35"/><circle cx="716.15" cy="354.9" r="1.35"/><circle cx="716.15" cy="332.65" r="1.35"/><circle cx="716.15" cy="310.4" r="1.35"/><circle cx="716.15" cy="292.6" r="1.35"/><circle cx="716.15" cy="279.25" r="1.35"/><circle cx="716.15" cy="261.45" r="1.35"/><circle cx="721.71" cy="430.55" r="1.35"/><circle cx="721.71" cy="426.1" r="1.35"/><circle cx="721.71" cy="417.2" r="1.35"/><circle cx="721.71" cy="408.3" r="1.35"/><circle cx="721.71" cy="399.4" r="1.35"/><circle cx="721.71" cy="381.6" r="1.35"/><circle cx="721.71" cy="368.25" r="1.35"/><circle cx="721.71" cy="354.9" r="1.35"/><circle cx="721.71" cy="332.65" r="1.35"/><circle cx="721.71" cy="310.4" r="1.35"/><circle cx="721.71" cy="279.25" r="1.35"/><circle cx="721.71" cy="261.45" r="1.35"/><circle cx="727.27" cy="412.75" r="1.35"/><circle cx="727.27" cy="354.9" r="1.35"/><circle cx="727.27" cy="323.75" r="1.35"/><circle cx="749.53" cy="354.9" r="1.35"/><circle cx="755.09" cy="354.9" r="1.35"/><circle cx="760.65" cy="354.9" r="1.35"/><circle cx="760.65" cy="341.55" r="1.35"/><circle cx="760.65" cy="319.3" r="1.35"/><circle cx="766.22" cy="354.9" r="1.35"/><circle cx="766.22" cy="341.55" r="1.35"/><circle cx="766.22" cy="319.3" r="1.35"/><circle cx="771.78" cy="354.9" r="1.35"/><circle cx="771.78" cy="341.55" r="1.35"/><circle cx="771.78" cy="319.3" r="1.35"/><circle cx="777.34" cy="354.9" r="1.35"/><circle cx="777.34" cy="341.55" r="1.35"/><circle cx="777.34" cy="319.3" r="1.35"/><circle cx="782.9" cy="354.9" r="1.35"/><circle cx="782.9" cy="341.55" r="1.35"/><circle cx="782.9" cy="319.3" r="1.35"/><circle cx="788.47" cy="354.9" r="1.35"/><circle cx="788.47" cy="341.55" r="1.35"/><circle cx="788.47" cy="319.3" r="1.35"/><circle cx="794.03" cy="354.9" r="1.35"/><circle cx="794.03" cy="341.55" r="1.35"/><circle cx="794.03" cy="319.3" r="1.35"/><circle cx="799.59" cy="354.9" r="1.35"/><circle cx="799.59" cy="341.55" r="1.35"/><circle cx="799.59" cy="319.3" r="1.35"/><circle cx="805.16" cy="357.12" r="1.35"/><circle cx="805.16" cy="343.77" r="1.35"/><circle cx="805.16" cy="321.52" r="1.35"/><circle cx="810.72" cy="412.75" r="1.35"/><circle cx="810.72" cy="359.35" r="1.35"/><circle cx="810.72" cy="346" r="1.35"/><circle cx="810.72" cy="323.75" r="1.35"/><circle cx="816.28" cy="412.75" r="1.35"/><circle cx="816.28" cy="368.25" r="1.35"/><circle cx="816.28" cy="354.9" r="1.35"/><circle cx="816.28" cy="332.65" r="1.35"/><circle cx="821.85" cy="412.75" r="1.35"/><circle cx="821.85" cy="368.25" r="1.35"/><circle cx="821.85" cy="354.9" r="1.35"/><circle cx="821.85" cy="332.65" r="1.35"/><circle cx="827.41" cy="412.75" r="1.35"/><circle cx="827.41" cy="368.25" r="1.35"/><circle cx="827.41" cy="354.9" r="1.35"/><circle cx="827.41" cy="332.65" r="1.35"/><circle cx="832.97" cy="412.75" r="1.35"/><circle cx="832.97" cy="368.25" r="1.35"/><circle cx="832.97" cy="354.9" r="1.35"/><circle cx="832.97" cy="332.65" r="1.35"/><circle cx="838.53" cy="412.75" r="1.35"/><circle cx="838.53" cy="368.25" r="1.35"/><circle cx="838.53" cy="354.9" r="1.35"/><circle cx="838.53" cy="332.65" r="1.35"/><circle cx="844.1" cy="412.75" r="1.35"/><circle cx="844.1" cy="368.25" r="1.35"/><circle cx="844.1" cy="354.9" r="1.35"/><circle cx="844.1" cy="332.65" r="1.35"/><circle cx="849.66" cy="412.75" r="1.35"/><circle cx="849.66" cy="368.25" r="1.35"/><circle cx="849.66" cy="354.9" r="1.35"/><circle cx="849.66" cy="332.65" r="1.35"/><circle cx="855.22" cy="412.75" r="1.35"/><circle cx="855.22" cy="368.25" r="1.35"/><circle cx="855.22" cy="354.9" r="1.35"/><circle cx="855.22" cy="332.65" r="1.35"/><circle cx="860.79" cy="412.75" r="1.35"/><circle cx="860.79" cy="368.25" r="1.35"/><circle cx="860.79" cy="354.9" r="1.35"/><circle cx="860.79" cy="332.65" r="1.35"/><circle cx="866.35" cy="412.75" r="1.35"/><circle cx="866.35" cy="368.25" r="1.35"/><circle cx="866.35" cy="354.9" r="1.35"/><circle cx="866.35" cy="332.65" r="1.35"/><circle cx="871.91" cy="412.75" r="1.35"/><circle cx="871.91" cy="368.25" r="1.35"/><circle cx="871.91" cy="332.65" r="1.35"/><circle cx="871.91" cy="323.75" r="1.35"/><circle cx="877.48" cy="412.75" r="1.35"/><circle cx="877.48" cy="368.25" r="1.35"/><circle cx="877.48" cy="354.9" r="1.35"/><circle cx="877.48" cy="332.65" r="1.35"/><circle cx="877.48" cy="323.75" r="1.35"/><circle cx="883.04" cy="412.75" r="1.35"/><circle cx="883.04" cy="368.25" r="1.35"/><circle cx="883.04" cy="354.9" r="1.35"/><circle cx="883.04" cy="332.65" r="1.35"/><circle cx="883.04" cy="323.75" r="1.35"/><circle cx="888.6" cy="412.75" r="1.35"/><circle cx="888.6" cy="368.25" r="1.35"/><circle cx="888.6" cy="354.9" r="1.35"/><circle cx="888.6" cy="332.65" r="1.35"/><circle cx="888.6" cy="323.75" r="1.35"/><circle cx="894.16" cy="412.75" r="1.35"/><circle cx="894.16" cy="368.25" r="1.35"/><circle cx="894.16" cy="354.9" r="1.35"/><circle cx="894.16" cy="332.65" r="1.35"/><circle cx="894.16" cy="323.75" r="1.35"/><circle cx="899.73" cy="426.1" r="1.35"/><circle cx="899.73" cy="381.6" r="1.35"/><circle cx="899.73" cy="372.7" r="1.35"/><circle cx="899.73" cy="337.1" r="1.35"/><circle cx="899.73" cy="323.75" r="1.35"/><circle cx="905.29" cy="426.1" r="1.35"/><circle cx="905.29" cy="381.6" r="1.35"/><circle cx="905.29" cy="372.7" r="1.35"/><circle cx="905.29" cy="337.1" r="1.35"/><circle cx="905.29" cy="323.75" r="1.35"/><circle cx="910.85" cy="426.1" r="1.35"/><circle cx="910.85" cy="381.6" r="1.35"/><circle cx="910.85" cy="372.7" r="1.35"/><circle cx="910.85" cy="337.1" r="1.35"/><circle cx="910.85" cy="323.75" r="1.35"/><circle cx="916.42" cy="426.1" r="1.35"/><circle cx="916.42" cy="381.6" r="1.35"/><circle cx="916.42" cy="372.7" r="1.35"/><circle cx="916.42" cy="337.1" r="1.35"/><circle cx="916.42" cy="323.75" r="1.35"/></g>
<path d="M31.9 457.25H37.46V435H43.03H48.59H54.15H59.71V457.25 M315.61 448.35H321.18H326.74V412.75H332.3V181.35H337.86V136.85H343.43H348.99V154.65H354.55H360.12H365.68V221.4H371.24H376.81V274.8H382.37V368.25H387.93H393.49H399.06H404.62H410.18H415.75V199.15H421.31H426.87H432.44H438V127.95H443.56H449.12H454.69H460.25H465.81V119.05H471.38V87.9H476.94H482.5V61.2H488.07H493.63H499.19V74.55H504.75H510.32H515.88H521.44H527.01V70.1H532.57H538.13H543.7V74.55H549.26H554.82H560.38H565.95H571.51H577.07H582.64H588.2H593.76H599.33V136.85H604.89V168H610.45H616.01H621.58H627.14H632.7H638.27H643.83H649.39H654.96H660.52H666.08H671.64H677.21H682.77H688.33H693.9H699.46V257H705.02H710.59H716.15H721.71H727.27V308.17H732.84V354.9H738.4H743.96V341.55H749.53H755.09V303.28H760.65H766.22H771.78H777.34H782.9H788.47H794.03H799.59H805.16V305.5H810.72V307.73H816.28V323.75H821.85H827.41H832.97H838.53H844.1H849.66H855.22H860.79H866.35V303.28H871.91H877.48H883.04H888.6H894.16H899.73V314.85H905.29H910.85H916.42" fill="none" stroke="#f25050" stroke-width="1.0"/>
<path d="M31.9 466.15H37.46H43.03V457.25H48.59H54.15H59.71H65.28H70.84V468.38H76.4H81.97H87.53 M315.61 475.05H321.18H326.74H332.3V470.6H337.86H343.43V452.8H348.99V461.7H354.55H360.12H365.68H371.24V470.6H376.81V472.82H382.37H387.93H393.49H399.06H404.62H410.18H415.75H421.31V461.7H426.87H432.44H438H443.56H449.12H454.69H460.25H465.81H471.38V435H476.94V394.95H482.5H488.07V377.15H493.63V390.5H499.19H504.75H510.32H515.88H521.44H527.01V388.72H532.57V380.71H538.13V390.5H543.7H549.26H554.82H560.38H565.95H571.51H577.07H582.64H588.2H593.76V408.3H599.33V417.2H604.89H610.45H616.01H621.58H627.14H632.7H638.27H643.83H649.39H654.96H660.52H666.08V479.5H671.64H677.21H682.77H688.33H693.9H699.46H705.02H710.59H716.15H721.71H727.27V430.55H732.84V412.75H738.4H743.96H749.53H755.09H760.65H766.22H771.78H777.34H782.9H788.47H794.03H799.59H805.16V435H810.72H816.28H821.85H827.41H832.97H838.53H844.1H849.66H855.22H860.79H866.35H871.91H877.48H883.04H888.6H894.16H899.73H905.29H910.85H916.42" fill="none" stroke="#4aa8ff" stroke-width="1.15"/>
<g fill="#1a86f5"><circle cx="31.9" cy="466.15" r="1.7"/><circle cx="37.46" cy="466.15" r="1.7"/><circle cx="43.03" cy="457.25" r="1.7"/><circle cx="48.59" cy="457.25" r="1.7"/><circle cx="54.15" cy="457.25" r="1.7"/><circle cx="59.71" cy="457.25" r="1.7"/><circle cx="65.28" cy="457.25" r="1.7"/><circle cx="70.84" cy="457.25" r="1.7"/><circle cx="76.4" cy="468.38" r="1.7"/><circle cx="81.97" cy="468.38" r="1.7"/><circle cx="87.53" cy="468.38" r="1.7"/><circle cx="209.92" cy="470.6" r="1.7"/><circle cx="315.61" cy="475.05" r="1.7"/><circle cx="321.18" cy="475.05" r="1.7"/><circle cx="326.74" cy="475.05" r="1.7"/><circle cx="332.3" cy="470.6" r="1.7"/><circle cx="337.86" cy="470.6" r="1.7"/><circle cx="343.43" cy="452.8" r="1.7"/><circle cx="348.99" cy="461.7" r="1.7"/><circle cx="354.55" cy="461.7" r="1.7"/><circle cx="360.12" cy="461.7" r="1.7"/><circle cx="365.68" cy="461.7" r="1.7"/><circle cx="371.24" cy="461.7" r="1.7"/><circle cx="376.81" cy="470.6" r="1.7"/><circle cx="382.37" cy="472.82" r="1.7"/><circle cx="387.93" cy="472.82" r="1.7"/><circle cx="393.49" cy="472.82" r="1.7"/><circle cx="399.06" cy="472.82" r="1.7"/><circle cx="404.62" cy="472.82" r="1.7"/><circle cx="410.18" cy="472.82" r="1.7"/><circle cx="415.75" cy="472.82" r="1.7"/><circle cx="421.31" cy="461.7" r="1.7"/><circle cx="426.87" cy="461.7" r="1.7"/><circle cx="432.44" cy="461.7" r="1.7"/><circle cx="438" cy="461.7" r="1.7"/><circle cx="443.56" cy="461.7" r="1.7"/><circle cx="449.12" cy="461.7" r="1.7"/><circle cx="454.69" cy="461.7" r="1.7"/><circle cx="460.25" cy="461.7" r="1.7"/><circle cx="465.81" cy="461.7" r="1.7"/><circle cx="471.38" cy="435" r="1.7"/><circle cx="476.94" cy="394.95" r="1.7"/><circle cx="482.5" cy="394.95" r="1.7"/><circle cx="488.07" cy="377.15" r="1.7"/><circle cx="493.63" cy="377.15" r="1.7"/><circle cx="499.19" cy="390.5" r="1.7"/><circle cx="504.75" cy="390.5" r="1.7"/><circle cx="510.32" cy="390.5" r="1.7"/><circle cx="515.88" cy="390.5" r="1.7"/><circle cx="521.44" cy="390.5" r="1.7"/><circle cx="527.01" cy="388.72" r="1.7"/><circle cx="532.57" cy="380.71" r="1.7"/><circle cx="538.13" cy="380.71" r="1.7"/><circle cx="543.7" cy="390.5" r="1.7"/><circle cx="549.26" cy="390.5" r="1.7"/><circle cx="554.82" cy="390.5" r="1.7"/><circle cx="560.38" cy="390.5" r="1.7"/><circle cx="565.95" cy="390.5" r="1.7"/><circle cx="571.51" cy="390.5" r="1.7"/><circle cx="577.07" cy="390.5" r="1.7"/><circle cx="582.64" cy="390.5" r="1.7"/><circle cx="588.2" cy="390.5" r="1.7"/><circle cx="593.76" cy="390.5" r="1.7"/><circle cx="599.33" cy="408.3" r="1.7"/><circle cx="604.89" cy="417.2" r="1.7"/><circle cx="610.45" cy="417.2" r="1.7"/><circle cx="616.01" cy="417.2" r="1.7"/><circle cx="621.58" cy="417.2" r="1.7"/><circle cx="627.14" cy="417.2" r="1.7"/><circle cx="632.7" cy="417.2" r="1.7"/><circle cx="638.27" cy="417.2" r="1.7"/><circle cx="643.83" cy="417.2" r="1.7"/><circle cx="649.39" cy="417.2" r="1.7"/><circle cx="654.96" cy="417.2" r="1.7"/><circle cx="660.52" cy="417.2" r="1.7"/><circle cx="666.08" cy="417.2" r="1.7"/><circle cx="671.64" cy="479.5" r="1.7"/><circle cx="677.21" cy="479.5" r="1.7"/><circle cx="682.77" cy="479.5" r="1.7"/><circle cx="688.33" cy="479.5" r="1.7"/><circle cx="693.9" cy="479.5" r="1.7"/><circle cx="699.46" cy="479.5" r="1.7"/><circle cx="705.02" cy="479.5" r="1.7"/><circle cx="710.59" cy="479.5" r="1.7"/><circle cx="716.15" cy="479.5" r="1.7"/><circle cx="721.71" cy="479.5" r="1.7"/><circle cx="727.27" cy="430.55" r="1.7"/><circle cx="732.84" cy="412.75" r="1.7"/><circle cx="738.4" cy="412.75" r="1.7"/><circle cx="743.96" cy="412.75" r="1.7"/><circle cx="749.53" cy="412.75" r="1.7"/><circle cx="755.09" cy="412.75" r="1.7"/><circle cx="760.65" cy="412.75" r="1.7"/><circle cx="766.22" cy="412.75" r="1.7"/><circle cx="771.78" cy="412.75" r="1.7"/><circle cx="777.34" cy="412.75" r="1.7"/><circle cx="782.9" cy="412.75" r="1.7"/><circle cx="788.47" cy="412.75" r="1.7"/><circle cx="794.03" cy="412.75" r="1.7"/><circle cx="799.59" cy="412.75" r="1.7"/><circle cx="805.16" cy="412.75" r="1.7"/><circle cx="810.72" cy="435" r="1.7"/><circle cx="816.28" cy="435" r="1.7"/><circle cx="821.85" cy="435" r="1.7"/><circle cx="827.41" cy="435" r="1.7"/><circle cx="832.97" cy="435" r="1.7"/><circle cx="838.53" cy="435" r="1.7"/><circle cx="844.1" cy="435" r="1.7"/><circle cx="849.66" cy="435" r="1.7"/><circle cx="855.22" cy="435" r="1.7"/><circle cx="860.79" cy="435" r="1.7"/><circle cx="866.35" cy="435" r="1.7"/><circle cx="871.91" cy="435" r="1.7"/><circle cx="877.48" cy="435" r="1.7"/><circle cx="883.04" cy="435" r="1.7"/><circle cx="888.6" cy="435" r="1.7"/><circle cx="894.16" cy="435" r="1.7"/><circle cx="899.73" cy="435" r="1.7"/><circle cx="905.29" cy="435" r="1.7"/><circle cx="910.85" cy="435" r="1.7"/><circle cx="916.42" cy="435" r="1.7"/></g>
<g fill="#e60a0a"><circle cx="31.9" cy="457.25" r="1.65"/><circle cx="37.46" cy="457.25" r="1.65"/><circle cx="43.03" cy="435" r="1.65"/><circle cx="48.59" cy="435" r="1.65"/><circle cx="54.15" cy="435" r="1.65"/><circle cx="315.61" cy="448.35" r="1.65"/><circle cx="321.18" cy="448.35" r="1.65"/><circle cx="326.74" cy="448.35" r="1.65"/><circle cx="332.3" cy="412.75" r="1.65"/><circle cx="337.86" cy="181.35" r="1.65"/><circle cx="343.43" cy="136.85" r="1.65"/><circle cx="348.99" cy="154.65" r="1.65"/><circle cx="354.55" cy="154.65" r="1.65"/><circle cx="360.12" cy="154.65" r="1.65"/><circle cx="365.68" cy="221.4" r="1.65"/><circle cx="371.24" cy="221.4" r="1.65"/><circle cx="376.81" cy="274.8" r="1.65"/><circle cx="382.37" cy="368.25" r="1.65"/><circle cx="387.93" cy="368.25" r="1.65"/><circle cx="393.49" cy="368.25" r="1.65"/><circle cx="399.06" cy="368.25" r="1.65"/><circle cx="404.62" cy="368.25" r="1.65"/><circle cx="410.18" cy="368.25" r="1.65"/><circle cx="415.75" cy="368.25" r="1.65"/><circle cx="421.31" cy="199.15" r="1.65"/><circle cx="426.87" cy="199.15" r="1.65"/><circle cx="432.44" cy="199.15" r="1.65"/><circle cx="438" cy="199.15" r="1.65"/><circle cx="443.56" cy="127.95" r="1.65"/><circle cx="449.12" cy="127.95" r="1.65"/><circle cx="454.69" cy="127.95" r="1.65"/><circle cx="460.25" cy="127.95" r="1.65"/><circle cx="465.81" cy="127.95" r="1.65"/><circle cx="471.38" cy="119.05" r="1.65"/><circle cx="476.94" cy="87.9" r="1.65"/><circle cx="482.5" cy="87.9" r="1.65"/><circle cx="488.07" cy="61.2" r="1.65"/><circle cx="493.63" cy="61.2" r="1.65"/><circle cx="499.19" cy="74.55" r="1.65"/><circle cx="504.75" cy="74.55" r="1.65"/><circle cx="510.32" cy="74.55" r="1.65"/><circle cx="515.88" cy="74.55" r="1.65"/><circle cx="521.44" cy="74.55" r="1.65"/><circle cx="527.01" cy="74.55" r="1.65"/><circle cx="532.57" cy="70.1" r="1.65"/><circle cx="538.13" cy="70.1" r="1.65"/><circle cx="543.7" cy="74.55" r="1.65"/><circle cx="549.26" cy="74.55" r="1.65"/><circle cx="554.82" cy="74.55" r="1.65"/><circle cx="560.38" cy="74.55" r="1.65"/><circle cx="565.95" cy="74.55" r="1.65"/><circle cx="571.51" cy="74.55" r="1.65"/><circle cx="577.07" cy="74.55" r="1.65"/><circle cx="582.64" cy="74.55" r="1.65"/><circle cx="588.2" cy="74.55" r="1.65"/><circle cx="593.76" cy="74.55" r="1.65"/><circle cx="599.33" cy="136.85" r="1.65"/><circle cx="604.89" cy="168" r="1.65"/><circle cx="610.45" cy="168" r="1.65"/><circle cx="616.01" cy="168" r="1.65"/><circle cx="621.58" cy="168" r="1.65"/><circle cx="627.14" cy="168" r="1.65"/><circle cx="632.7" cy="168" r="1.65"/><circle cx="638.27" cy="168" r="1.65"/><circle cx="643.83" cy="168" r="1.65"/><circle cx="649.39" cy="168" r="1.65"/><circle cx="654.96" cy="168" r="1.65"/><circle cx="660.52" cy="168" r="1.65"/><circle cx="666.08" cy="168" r="1.65"/><circle cx="671.64" cy="168" r="1.65"/><circle cx="677.21" cy="168" r="1.65"/><circle cx="682.77" cy="168" r="1.65"/><circle cx="688.33" cy="168" r="1.65"/><circle cx="693.9" cy="168" r="1.65"/><circle cx="699.46" cy="257" r="1.65"/><circle cx="705.02" cy="257" r="1.65"/><circle cx="710.59" cy="257" r="1.65"/><circle cx="716.15" cy="257" r="1.65"/><circle cx="721.71" cy="257" r="1.65"/><circle cx="727.27" cy="308.17" r="1.65"/><circle cx="732.84" cy="354.9" r="1.65"/><circle cx="738.4" cy="354.9" r="1.65"/><circle cx="743.96" cy="354.9" r="1.65"/><circle cx="749.53" cy="341.55" r="1.65"/><circle cx="755.09" cy="341.55" r="1.65"/><circle cx="760.65" cy="303.28" r="1.65"/><circle cx="766.22" cy="303.28" r="1.65"/><circle cx="771.78" cy="303.28" r="1.65"/><circle cx="777.34" cy="303.28" r="1.65"/><circle cx="782.9" cy="303.28" r="1.65"/><circle cx="788.47" cy="303.28" r="1.65"/><circle cx="794.03" cy="303.28" r="1.65"/><circle cx="799.59" cy="303.28" r="1.65"/><circle cx="805.16" cy="305.5" r="1.65"/><circle cx="810.72" cy="307.73" r="1.65"/><circle cx="816.28" cy="323.75" r="1.65"/><circle cx="821.85" cy="323.75" r="1.65"/><circle cx="827.41" cy="323.75" r="1.65"/><circle cx="832.97" cy="323.75" r="1.65"/><circle cx="838.53" cy="323.75" r="1.65"/><circle cx="844.1" cy="323.75" r="1.65"/><circle cx="849.66" cy="323.75" r="1.65"/><circle cx="855.22" cy="323.75" r="1.65"/><circle cx="860.79" cy="323.75" r="1.65"/><circle cx="866.35" cy="323.75" r="1.65"/><circle cx="871.91" cy="303.28" r="1.65"/><circle cx="877.48" cy="303.28" r="1.65"/><circle cx="883.04" cy="303.28" r="1.65"/><circle cx="888.6" cy="303.28" r="1.65"/><circle cx="894.16" cy="303.28" r="1.65"/><circle cx="899.73" cy="314.85" r="1.65"/><circle cx="905.29" cy="314.85" r="1.65"/><circle cx="910.85" cy="314.85" r="1.65"/><circle cx="916.42" cy="314.85" r="1.65"/></g>
<g fill="#1a86f5"><circle cx="59.71" cy="457.25" r="1.9"/><circle cx="65.28" cy="457.25" r="1.9"/><circle cx="70.84" cy="457.25" r="1.9"/><circle cx="76.4" cy="468.38" r="1.9"/><circle cx="81.97" cy="468.38" r="1.9"/><circle cx="87.53" cy="468.38" r="1.9"/><circle cx="209.92" cy="470.6" r="1.9"/></g>
<g fill="#e60a0a"><circle cx="59.71" cy="457.25" r="1.25"/><circle cx="65.28" cy="457.25" r="1.25"/><circle cx="70.84" cy="457.25" r="1.25"/><circle cx="76.4" cy="468.38" r="1.25"/><circle cx="81.97" cy="468.38" r="1.25"/><circle cx="87.53" cy="468.38" r="1.25"/><circle cx="209.92" cy="470.6" r="1.25"/></g>
<line x1="321.5" x2="337.5" y1="48.8" y2="48.8" stroke="#f03c3c" stroke-width="1.3"/>
<circle cx="321.5" cy="48.8" r="2.0" fill="#e60a0a"/><circle cx="337.5" cy="48.8" r="2.0" fill="#e60a0a"/>
<text x="344" y="51.7" font-size="8.3" font-weight="bold" fill="#111" textLength="84.2" lengthAdjust="spacingAndGlyphs">Top Marginal Tax Rates</text>
<line x1="321.5" x2="337.5" y1="71.7" y2="71.7" stroke="#3ea2ff" stroke-width="1.4"/>
<circle cx="321.5" cy="71.7" r="2.1" fill="#1a86f5"/><circle cx="337.5" cy="71.7" r="2.1" fill="#1a86f5"/>
<text x="344" y="74.6" font-size="8.3" font-weight="bold" fill="#111" textLength="97.5" lengthAdjust="spacingAndGlyphs">Bottom Marginal Tax Rates</text>
<rect x="946" y="0" width="2" height="494" fill="#000"/>
<rect x="941" y="498.3" width="7" height="3.7" fill="#2456d0"/>
</svg>
</body></html>
